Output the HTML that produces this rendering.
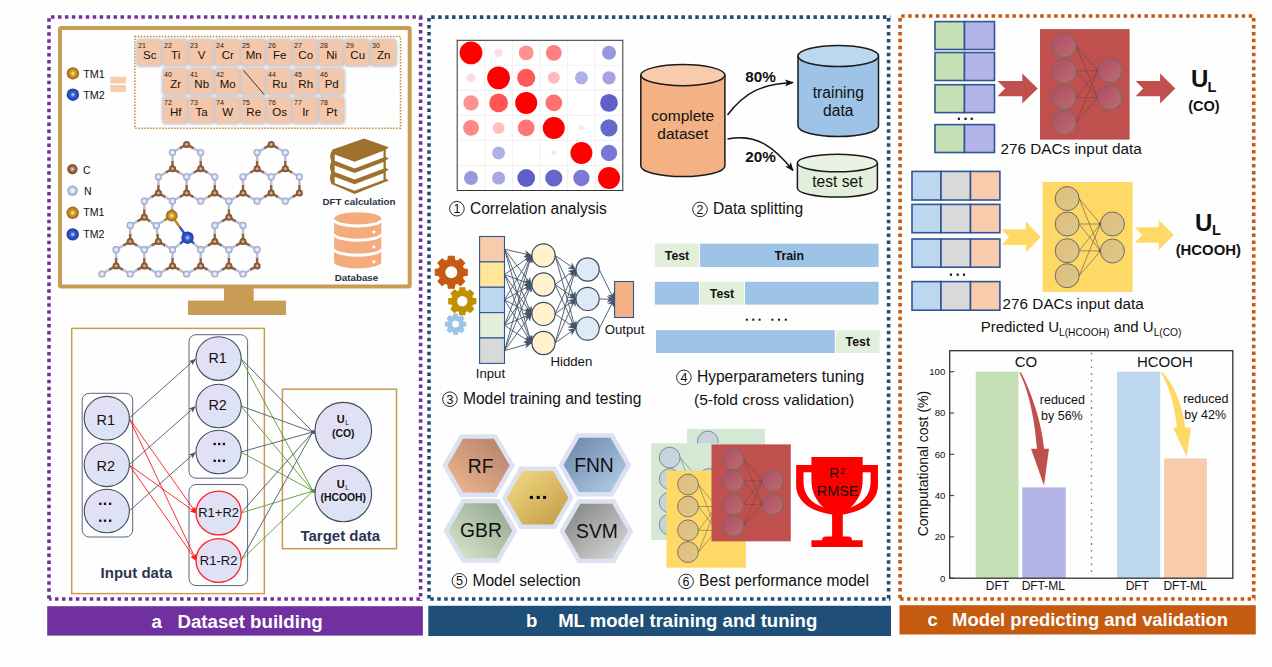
<!DOCTYPE html>
<html><head><meta charset="utf-8"><style>
html,body{margin:0;padding:0;background:#fff;width:1272px;height:667px;overflow:hidden}
svg{display:block;font-family:"Liberation Sans", sans-serif}
</style></head><body>
<svg width="1272" height="667" viewBox="0 0 1272 667">
<defs>
<radialGradient id="gTM1" cx="0.5" cy="0.5" r="0.55"><stop offset="0" stop-color="#FFF2B0"/><stop offset="0.35" stop-color="#D8A030"/><stop offset="1" stop-color="#8A5A10"/></radialGradient>
<radialGradient id="gTM2" cx="0.5" cy="0.5" r="0.55"><stop offset="0" stop-color="#D0E0FF"/><stop offset="0.35" stop-color="#3A60D8"/><stop offset="1" stop-color="#1A3090"/></radialGradient>
<radialGradient id="gC" cx="0.5" cy="0.5" r="0.55"><stop offset="0" stop-color="#F4DCC8"/><stop offset="0.45" stop-color="#9C6A48"/><stop offset="1" stop-color="#65402A"/></radialGradient>
<radialGradient id="gN" cx="0.5" cy="0.5" r="0.55"><stop offset="0" stop-color="#FFFFFF"/><stop offset="0.5" stop-color="#CAD2EE"/><stop offset="1" stop-color="#7C88B0"/></radialGradient>
<linearGradient id="gCirc" x1="0" y1="0" x2="1" y2="1"><stop offset="0" stop-color="#EADCF4"/><stop offset="1" stop-color="#D6E6F6"/></linearGradient>
<linearGradient id="hxRF" x1="1" y1="0" x2="0" y2="1"><stop offset="0" stop-color="#B08068"/><stop offset="1" stop-color="#F0B890"/></linearGradient>
<linearGradient id="hxGBR" x1="1" y1="0" x2="0" y2="1"><stop offset="0" stop-color="#8CA48C"/><stop offset="1" stop-color="#DCE8CC"/></linearGradient>
<linearGradient id="hxDOT" x1="0" y1="0" x2="1" y2="1"><stop offset="0" stop-color="#F4DC84"/><stop offset="1" stop-color="#C09A44"/></linearGradient>
<linearGradient id="hxFNN" x1="0" y1="0" x2="1" y2="1"><stop offset="0" stop-color="#6A84A4"/><stop offset="1" stop-color="#B4D0EC"/></linearGradient>
<linearGradient id="hxSVM" x1="0" y1="0" x2="1" y2="1"><stop offset="0" stop-color="#808080"/><stop offset="1" stop-color="#DCDCDC"/></linearGradient>
<linearGradient id="gNNr" x1="0" y1="0" x2="1" y2="1"><stop offset="0" stop-color="#B24A66"/><stop offset="1" stop-color="#B8706E"/></linearGradient>
<linearGradient id="gNNy" x1="0" y1="0" x2="1" y2="1"><stop offset="0" stop-color="#E4BA80"/><stop offset="1" stop-color="#D8CA88"/></linearGradient>
<linearGradient id="gNNg" x1="0" y1="0" x2="1" y2="1"><stop offset="0" stop-color="#C8D0DC"/><stop offset="1" stop-color="#C4D8DC"/></linearGradient>
<filter id="blur1" x="-20%" y="-20%" width="140%" height="140%"><feGaussianBlur stdDeviation="0.9"/></filter>
<filter id="cellsh" x="-20%" y="-20%" width="140%" height="140%"><feDropShadow dx="0" dy="0.4" stdDeviation="1.3" flood-color="#9096A4" flood-opacity="1"/></filter>
<marker id="arrG" viewBox="0 0 10 10" refX="9" refY="5" markerWidth="7" markerHeight="7" orient="auto" markerUnits="userSpaceOnUse"><path d="M0,1 L10,5 L0,9 L2.5,5 Z" fill="#4A5868"/></marker>
<marker id="arrR" viewBox="0 0 10 10" refX="9" refY="5" markerWidth="7" markerHeight="7" orient="auto" markerUnits="userSpaceOnUse"><path d="M0,1 L10,5 L0,9 L2.5,5 Z" fill="#FF1A1A"/></marker>
<marker id="arrN" viewBox="0 0 10 10" refX="9" refY="5" markerWidth="8" markerHeight="8" orient="auto" markerUnits="userSpaceOnUse"><path d="M0,0.5 L10,5 L0,9.5 L3,5 Z" fill="#44546A"/></marker>
<marker id="arrK" viewBox="0 0 10 10" refX="9" refY="5" markerWidth="9" markerHeight="9" orient="auto" markerUnits="userSpaceOnUse"><path d="M0,1 L10,5 L0,9 L2.5,5 Z" fill="#111"/></marker>
</defs>
<rect width="1272" height="667" fill="#FEFEFE"/>
<line x1="49.00" y1="17.00" x2="422.40" y2="17.00" stroke="#7030A0" stroke-width="3.6" stroke-dasharray="3.5 3.45" stroke-dashoffset="4.95"/>
<line x1="49.00" y1="17.00" x2="49.00" y2="600.80" stroke="#7030A0" stroke-width="3.6" stroke-dasharray="3.5 3.45" stroke-dashoffset="5.65"/>
<line x1="420.60" y1="17.00" x2="420.60" y2="600.80" stroke="#7030A0" stroke-width="3.6" stroke-dasharray="3.5 3.45" stroke-dashoffset="0.85"/>
<line x1="49.00" y1="599.00" x2="422.40" y2="599.00" stroke="#7030A0" stroke-width="3.6" stroke-dasharray="3.5 3.45" stroke-dashoffset="0.95"/>
<rect x="47.20" y="606.20" width="375.70" height="29.40" rx="0" fill="#7030A0" stroke="none" stroke-width="1" />
<text x="151.6" y="627.6" font-size="18.7" text-anchor="start" font-weight="bold" fill="#fff" >a</text>
<text x="177.4" y="627.6" font-size="18.7" text-anchor="start" font-weight="bold" fill="#fff" >Dataset building</text>
<rect x="60.00" y="28.00" width="349.70" height="258.40" rx="1.2" fill="none" stroke="#C99C55" stroke-width="4" />
<rect x="224.00" y="288.00" width="29.70" height="13.00" rx="0" fill="#C99C55" stroke="none" stroke-width="1" />
<rect x="188.00" y="300.60" width="98.00" height="14.40" rx="0" fill="#C99C55" stroke="none" stroke-width="1" />
<rect x="134.90" y="36.60" width="265.60" height="91.60" rx="0" fill="none" stroke="#C48A2A" stroke-width="1.5" stroke-dasharray="1.5 1.5"/>
<rect x="135.60" y="38.60" width="27.70" height="28.50" rx="4.5" fill="#C4C8D2" stroke="none" stroke-width="1" filter="url(#blur1)"/>
<rect x="137.20" y="40.00" width="24.50" height="25.30" rx="3" fill="#F4C7AA" stroke="none" stroke-width="1" />
<text x="138.0" y="47.7" font-size="7" text-anchor="start" font-weight="normal" fill="#222" >21</text>
<text x="149.7" y="59.0" font-size="11.5" text-anchor="middle" font-weight="normal" fill="#111" >Sc</text>
<rect x="161.60" y="38.60" width="27.70" height="28.50" rx="4.5" fill="#C4C8D2" stroke="none" stroke-width="1" filter="url(#blur1)"/>
<rect x="163.20" y="40.00" width="24.50" height="25.30" rx="3" fill="#F4C7AA" stroke="none" stroke-width="1" />
<text x="164.0" y="47.7" font-size="7" text-anchor="start" font-weight="normal" fill="#222" >22</text>
<text x="175.7" y="59.0" font-size="11.5" text-anchor="middle" font-weight="normal" fill="#111" >Ti</text>
<rect x="187.60" y="38.60" width="27.70" height="28.50" rx="4.5" fill="#C4C8D2" stroke="none" stroke-width="1" filter="url(#blur1)"/>
<rect x="189.20" y="40.00" width="24.50" height="25.30" rx="3" fill="#F4C7AA" stroke="none" stroke-width="1" />
<text x="190.0" y="47.7" font-size="7" text-anchor="start" font-weight="normal" fill="#222" >23</text>
<text x="201.7" y="59.0" font-size="11.5" text-anchor="middle" font-weight="normal" fill="#111" >V</text>
<rect x="213.60" y="38.60" width="27.70" height="28.50" rx="4.5" fill="#C4C8D2" stroke="none" stroke-width="1" filter="url(#blur1)"/>
<rect x="215.20" y="40.00" width="24.50" height="25.30" rx="3" fill="#F4C7AA" stroke="none" stroke-width="1" />
<text x="216.0" y="47.7" font-size="7" text-anchor="start" font-weight="normal" fill="#222" >24</text>
<text x="227.7" y="59.0" font-size="11.5" text-anchor="middle" font-weight="normal" fill="#111" >Cr</text>
<rect x="239.60" y="38.60" width="27.70" height="28.50" rx="4.5" fill="#C4C8D2" stroke="none" stroke-width="1" filter="url(#blur1)"/>
<rect x="241.20" y="40.00" width="24.50" height="25.30" rx="3" fill="#F4C7AA" stroke="none" stroke-width="1" />
<text x="242.0" y="47.7" font-size="7" text-anchor="start" font-weight="normal" fill="#222" >25</text>
<text x="253.7" y="59.0" font-size="11.5" text-anchor="middle" font-weight="normal" fill="#111" >Mn</text>
<rect x="265.60" y="38.60" width="27.70" height="28.50" rx="4.5" fill="#C4C8D2" stroke="none" stroke-width="1" filter="url(#blur1)"/>
<rect x="267.20" y="40.00" width="24.50" height="25.30" rx="3" fill="#F4C7AA" stroke="none" stroke-width="1" />
<text x="268.0" y="47.7" font-size="7" text-anchor="start" font-weight="normal" fill="#222" >26</text>
<text x="279.7" y="59.0" font-size="11.5" text-anchor="middle" font-weight="normal" fill="#111" >Fe</text>
<rect x="291.60" y="38.60" width="27.70" height="28.50" rx="4.5" fill="#C4C8D2" stroke="none" stroke-width="1" filter="url(#blur1)"/>
<rect x="293.20" y="40.00" width="24.50" height="25.30" rx="3" fill="#F4C7AA" stroke="none" stroke-width="1" />
<text x="294.0" y="47.7" font-size="7" text-anchor="start" font-weight="normal" fill="#222" >27</text>
<text x="305.7" y="59.0" font-size="11.5" text-anchor="middle" font-weight="normal" fill="#111" >Co</text>
<rect x="317.60" y="38.60" width="27.70" height="28.50" rx="4.5" fill="#C4C8D2" stroke="none" stroke-width="1" filter="url(#blur1)"/>
<rect x="319.20" y="40.00" width="24.50" height="25.30" rx="3" fill="#F4C7AA" stroke="none" stroke-width="1" />
<text x="320.0" y="47.7" font-size="7" text-anchor="start" font-weight="normal" fill="#222" >28</text>
<text x="331.7" y="59.0" font-size="11.5" text-anchor="middle" font-weight="normal" fill="#111" >Ni</text>
<rect x="343.60" y="38.60" width="27.70" height="28.50" rx="4.5" fill="#C4C8D2" stroke="none" stroke-width="1" filter="url(#blur1)"/>
<rect x="345.20" y="40.00" width="24.50" height="25.30" rx="3" fill="#F4C7AA" stroke="none" stroke-width="1" />
<text x="346.0" y="47.7" font-size="7" text-anchor="start" font-weight="normal" fill="#222" >29</text>
<text x="357.7" y="59.0" font-size="11.5" text-anchor="middle" font-weight="normal" fill="#111" >Cu</text>
<rect x="369.60" y="38.60" width="27.70" height="28.50" rx="4.5" fill="#C4C8D2" stroke="none" stroke-width="1" filter="url(#blur1)"/>
<rect x="371.20" y="40.00" width="24.50" height="25.30" rx="3" fill="#F4C7AA" stroke="none" stroke-width="1" />
<text x="372.0" y="47.7" font-size="7" text-anchor="start" font-weight="normal" fill="#222" >30</text>
<text x="383.7" y="59.0" font-size="11.5" text-anchor="middle" font-weight="normal" fill="#111" >Zn</text>
<rect x="161.60" y="67.60" width="27.70" height="28.50" rx="4.5" fill="#C4C8D2" stroke="none" stroke-width="1" filter="url(#blur1)"/>
<rect x="163.20" y="69.00" width="24.50" height="25.30" rx="3" fill="#F4C7AA" stroke="none" stroke-width="1" />
<text x="164.0" y="76.7" font-size="7" text-anchor="start" font-weight="normal" fill="#222" >40</text>
<text x="175.7" y="88.0" font-size="11.5" text-anchor="middle" font-weight="normal" fill="#111" >Zr</text>
<rect x="187.60" y="67.60" width="27.70" height="28.50" rx="4.5" fill="#C4C8D2" stroke="none" stroke-width="1" filter="url(#blur1)"/>
<rect x="189.20" y="69.00" width="24.50" height="25.30" rx="3" fill="#F4C7AA" stroke="none" stroke-width="1" />
<text x="190.0" y="76.7" font-size="7" text-anchor="start" font-weight="normal" fill="#222" >41</text>
<text x="201.7" y="88.0" font-size="11.5" text-anchor="middle" font-weight="normal" fill="#111" >Nb</text>
<rect x="213.60" y="67.60" width="27.70" height="28.50" rx="4.5" fill="#C4C8D2" stroke="none" stroke-width="1" filter="url(#blur1)"/>
<rect x="215.20" y="69.00" width="24.50" height="25.30" rx="3" fill="#F4C7AA" stroke="none" stroke-width="1" />
<text x="216.0" y="76.7" font-size="7" text-anchor="start" font-weight="normal" fill="#222" >42</text>
<text x="227.7" y="88.0" font-size="11.5" text-anchor="middle" font-weight="normal" fill="#111" >Mo</text>
<rect x="239.60" y="67.60" width="27.70" height="28.50" rx="4.5" fill="#C4C8D2" stroke="none" stroke-width="1" filter="url(#blur1)"/>
<rect x="241.20" y="69.00" width="24.50" height="25.30" rx="3" fill="#F4C7AA" stroke="none" stroke-width="1" />
<line x1="243.60" y1="70.50" x2="264.20" y2="94.60" stroke="#222" stroke-width="0.9" />
<rect x="265.60" y="67.60" width="27.70" height="28.50" rx="4.5" fill="#C4C8D2" stroke="none" stroke-width="1" filter="url(#blur1)"/>
<rect x="267.20" y="69.00" width="24.50" height="25.30" rx="3" fill="#F4C7AA" stroke="none" stroke-width="1" />
<text x="268.0" y="76.7" font-size="7" text-anchor="start" font-weight="normal" fill="#222" >44</text>
<text x="279.7" y="88.0" font-size="11.5" text-anchor="middle" font-weight="normal" fill="#111" >Ru</text>
<rect x="291.60" y="67.60" width="27.70" height="28.50" rx="4.5" fill="#C4C8D2" stroke="none" stroke-width="1" filter="url(#blur1)"/>
<rect x="293.20" y="69.00" width="24.50" height="25.30" rx="3" fill="#F4C7AA" stroke="none" stroke-width="1" />
<text x="294.0" y="76.7" font-size="7" text-anchor="start" font-weight="normal" fill="#222" >45</text>
<text x="305.7" y="88.0" font-size="11.5" text-anchor="middle" font-weight="normal" fill="#111" >Rh</text>
<rect x="317.60" y="67.60" width="27.70" height="28.50" rx="4.5" fill="#C4C8D2" stroke="none" stroke-width="1" filter="url(#blur1)"/>
<rect x="319.20" y="69.00" width="24.50" height="25.30" rx="3" fill="#F4C7AA" stroke="none" stroke-width="1" />
<text x="320.0" y="76.7" font-size="7" text-anchor="start" font-weight="normal" fill="#222" >46</text>
<text x="331.7" y="88.0" font-size="11.5" text-anchor="middle" font-weight="normal" fill="#111" >Pd</text>
<rect x="161.60" y="96.00" width="27.70" height="28.50" rx="4.5" fill="#C4C8D2" stroke="none" stroke-width="1" filter="url(#blur1)"/>
<rect x="163.20" y="97.40" width="24.50" height="25.30" rx="3" fill="#F4C7AA" stroke="none" stroke-width="1" />
<text x="164.0" y="105.1" font-size="7" text-anchor="start" font-weight="normal" fill="#222" >72</text>
<text x="175.7" y="116.4" font-size="11.5" text-anchor="middle" font-weight="normal" fill="#111" >Hf</text>
<rect x="187.60" y="96.00" width="27.70" height="28.50" rx="4.5" fill="#C4C8D2" stroke="none" stroke-width="1" filter="url(#blur1)"/>
<rect x="189.20" y="97.40" width="24.50" height="25.30" rx="3" fill="#F4C7AA" stroke="none" stroke-width="1" />
<text x="190.0" y="105.1" font-size="7" text-anchor="start" font-weight="normal" fill="#222" >73</text>
<text x="201.7" y="116.4" font-size="11.5" text-anchor="middle" font-weight="normal" fill="#111" >Ta</text>
<rect x="213.60" y="96.00" width="27.70" height="28.50" rx="4.5" fill="#C4C8D2" stroke="none" stroke-width="1" filter="url(#blur1)"/>
<rect x="215.20" y="97.40" width="24.50" height="25.30" rx="3" fill="#F4C7AA" stroke="none" stroke-width="1" />
<text x="216.0" y="105.1" font-size="7" text-anchor="start" font-weight="normal" fill="#222" >74</text>
<text x="227.7" y="116.4" font-size="11.5" text-anchor="middle" font-weight="normal" fill="#111" >W</text>
<rect x="239.60" y="96.00" width="27.70" height="28.50" rx="4.5" fill="#C4C8D2" stroke="none" stroke-width="1" filter="url(#blur1)"/>
<rect x="241.20" y="97.40" width="24.50" height="25.30" rx="3" fill="#F4C7AA" stroke="none" stroke-width="1" />
<text x="242.0" y="105.1" font-size="7" text-anchor="start" font-weight="normal" fill="#222" >75</text>
<text x="253.7" y="116.4" font-size="11.5" text-anchor="middle" font-weight="normal" fill="#111" >Re</text>
<rect x="265.60" y="96.00" width="27.70" height="28.50" rx="4.5" fill="#C4C8D2" stroke="none" stroke-width="1" filter="url(#blur1)"/>
<rect x="267.20" y="97.40" width="24.50" height="25.30" rx="3" fill="#F4C7AA" stroke="none" stroke-width="1" />
<text x="268.0" y="105.1" font-size="7" text-anchor="start" font-weight="normal" fill="#222" >76</text>
<text x="279.7" y="116.4" font-size="11.5" text-anchor="middle" font-weight="normal" fill="#111" >Os</text>
<rect x="291.60" y="96.00" width="27.70" height="28.50" rx="4.5" fill="#C4C8D2" stroke="none" stroke-width="1" filter="url(#blur1)"/>
<rect x="293.20" y="97.40" width="24.50" height="25.30" rx="3" fill="#F4C7AA" stroke="none" stroke-width="1" />
<text x="294.0" y="105.1" font-size="7" text-anchor="start" font-weight="normal" fill="#222" >77</text>
<text x="305.7" y="116.4" font-size="11.5" text-anchor="middle" font-weight="normal" fill="#111" >Ir</text>
<rect x="317.60" y="96.00" width="27.70" height="28.50" rx="4.5" fill="#C4C8D2" stroke="none" stroke-width="1" filter="url(#blur1)"/>
<rect x="319.20" y="97.40" width="24.50" height="25.30" rx="3" fill="#F4C7AA" stroke="none" stroke-width="1" />
<text x="320.0" y="105.1" font-size="7" text-anchor="start" font-weight="normal" fill="#222" >78</text>
<text x="331.7" y="116.4" font-size="11.5" text-anchor="middle" font-weight="normal" fill="#111" >Pt</text>
<circle cx="72.90" cy="73.40" r="6.20" fill="url(#gTM1)" stroke="none" stroke-width="1" />
<circle cx="72.90" cy="94.70" r="6.20" fill="url(#gTM2)" stroke="none" stroke-width="1" />
<text x="83.2" y="77.5" font-size="10.8" text-anchor="start" font-weight="normal" fill="#111" >TM1</text>
<text x="83.2" y="99.0" font-size="10.8" text-anchor="start" font-weight="normal" fill="#111" >TM2</text>
<rect x="110.30" y="76.70" width="15.60" height="6.80" rx="0" fill="#F8CBAD" stroke="none" stroke-width="1" />
<rect x="110.30" y="85.10" width="15.60" height="6.80" rx="0" fill="#F8CBAD" stroke="none" stroke-width="1" />
<circle cx="72.40" cy="169.10" r="5.20" fill="url(#gC)" stroke="none" stroke-width="1" />
<circle cx="72.50" cy="190.60" r="5.20" fill="url(#gN)" stroke="none" stroke-width="1" />
<circle cx="72.70" cy="212.80" r="6.20" fill="url(#gTM1)" stroke="none" stroke-width="1" />
<circle cx="72.70" cy="234.40" r="6.20" fill="url(#gTM2)" stroke="none" stroke-width="1" />
<text x="83.0" y="173.7" font-size="10.5" text-anchor="start" font-weight="normal" fill="#111" >C</text>
<text x="84.0" y="195.2" font-size="10.5" text-anchor="start" font-weight="normal" fill="#111" >N</text>
<text x="83.2" y="216.1" font-size="10.6" text-anchor="start" font-weight="normal" fill="#111" >TM1</text>
<text x="83.2" y="237.9" font-size="10.6" text-anchor="start" font-weight="normal" fill="#111" >TM2</text>
<line x1="186.60" y1="144.40" x2="179.55" y2="148.45" stroke="#96623E" stroke-width="2.5" />
<line x1="179.55" y1="148.45" x2="172.50" y2="152.50" stroke="#B4C0DE" stroke-width="2.5" />
<line x1="186.60" y1="144.40" x2="193.65" y2="148.45" stroke="#96623E" stroke-width="2.5" />
<line x1="193.65" y1="148.45" x2="200.70" y2="152.50" stroke="#B4C0DE" stroke-width="2.5" />
<line x1="172.50" y1="168.70" x2="172.50" y2="160.60" stroke="#96623E" stroke-width="2.5" />
<line x1="172.50" y1="160.60" x2="172.50" y2="152.50" stroke="#B4C0DE" stroke-width="2.5" />
<line x1="172.50" y1="168.70" x2="179.55" y2="172.75" stroke="#96623E" stroke-width="2.5" />
<line x1="179.55" y1="172.75" x2="186.60" y2="176.80" stroke="#B4C0DE" stroke-width="2.5" />
<line x1="172.50" y1="168.70" x2="165.45" y2="172.75" stroke="#96623E" stroke-width="2.5" />
<line x1="165.45" y1="172.75" x2="158.40" y2="176.80" stroke="#B4C0DE" stroke-width="2.5" />
<line x1="200.70" y1="168.70" x2="200.70" y2="160.60" stroke="#96623E" stroke-width="2.5" />
<line x1="200.70" y1="160.60" x2="200.70" y2="152.50" stroke="#B4C0DE" stroke-width="2.5" />
<line x1="200.70" y1="168.70" x2="193.65" y2="172.75" stroke="#96623E" stroke-width="2.5" />
<line x1="193.65" y1="172.75" x2="186.60" y2="176.80" stroke="#B4C0DE" stroke-width="2.5" />
<line x1="200.70" y1="168.70" x2="207.75" y2="172.75" stroke="#96623E" stroke-width="2.5" />
<line x1="207.75" y1="172.75" x2="214.80" y2="176.80" stroke="#B4C0DE" stroke-width="2.5" />
<line x1="158.40" y1="193.00" x2="158.40" y2="184.90" stroke="#96623E" stroke-width="2.5" />
<line x1="158.40" y1="184.90" x2="158.40" y2="176.80" stroke="#B4C0DE" stroke-width="2.5" />
<line x1="158.40" y1="193.00" x2="165.45" y2="197.05" stroke="#96623E" stroke-width="2.5" />
<line x1="165.45" y1="197.05" x2="172.50" y2="201.10" stroke="#B4C0DE" stroke-width="2.5" />
<line x1="158.40" y1="193.00" x2="151.35" y2="197.05" stroke="#96623E" stroke-width="2.5" />
<line x1="151.35" y1="197.05" x2="144.30" y2="201.10" stroke="#B4C0DE" stroke-width="2.5" />
<line x1="186.60" y1="193.00" x2="186.60" y2="184.90" stroke="#96623E" stroke-width="2.5" />
<line x1="186.60" y1="184.90" x2="186.60" y2="176.80" stroke="#B4C0DE" stroke-width="2.5" />
<line x1="186.60" y1="193.00" x2="179.55" y2="197.05" stroke="#96623E" stroke-width="2.5" />
<line x1="179.55" y1="197.05" x2="172.50" y2="201.10" stroke="#B4C0DE" stroke-width="2.5" />
<line x1="186.60" y1="193.00" x2="193.65" y2="197.05" stroke="#96623E" stroke-width="2.5" />
<line x1="193.65" y1="197.05" x2="200.70" y2="201.10" stroke="#B4C0DE" stroke-width="2.5" />
<line x1="214.80" y1="193.00" x2="214.80" y2="184.90" stroke="#96623E" stroke-width="2.5" />
<line x1="214.80" y1="184.90" x2="214.80" y2="176.80" stroke="#B4C0DE" stroke-width="2.5" />
<line x1="214.80" y1="193.00" x2="207.75" y2="197.05" stroke="#96623E" stroke-width="2.5" />
<line x1="207.75" y1="197.05" x2="200.70" y2="201.10" stroke="#B4C0DE" stroke-width="2.5" />
<line x1="214.80" y1="193.00" x2="221.85" y2="197.05" stroke="#96623E" stroke-width="2.5" />
<line x1="221.85" y1="197.05" x2="228.90" y2="201.10" stroke="#B4C0DE" stroke-width="2.5" />
<line x1="271.20" y1="144.40" x2="264.15" y2="148.45" stroke="#96623E" stroke-width="2.5" />
<line x1="264.15" y1="148.45" x2="257.10" y2="152.50" stroke="#B4C0DE" stroke-width="2.5" />
<line x1="271.20" y1="144.40" x2="278.25" y2="148.45" stroke="#96623E" stroke-width="2.5" />
<line x1="278.25" y1="148.45" x2="285.30" y2="152.50" stroke="#B4C0DE" stroke-width="2.5" />
<line x1="257.10" y1="168.70" x2="257.10" y2="160.60" stroke="#96623E" stroke-width="2.5" />
<line x1="257.10" y1="160.60" x2="257.10" y2="152.50" stroke="#B4C0DE" stroke-width="2.5" />
<line x1="257.10" y1="168.70" x2="264.15" y2="172.75" stroke="#96623E" stroke-width="2.5" />
<line x1="264.15" y1="172.75" x2="271.20" y2="176.80" stroke="#B4C0DE" stroke-width="2.5" />
<line x1="257.10" y1="168.70" x2="250.05" y2="172.75" stroke="#96623E" stroke-width="2.5" />
<line x1="250.05" y1="172.75" x2="243.00" y2="176.80" stroke="#B4C0DE" stroke-width="2.5" />
<line x1="285.30" y1="168.70" x2="285.30" y2="160.60" stroke="#96623E" stroke-width="2.5" />
<line x1="285.30" y1="160.60" x2="285.30" y2="152.50" stroke="#B4C0DE" stroke-width="2.5" />
<line x1="285.30" y1="168.70" x2="278.25" y2="172.75" stroke="#96623E" stroke-width="2.5" />
<line x1="278.25" y1="172.75" x2="271.20" y2="176.80" stroke="#B4C0DE" stroke-width="2.5" />
<line x1="285.30" y1="168.70" x2="292.35" y2="172.75" stroke="#96623E" stroke-width="2.5" />
<line x1="292.35" y1="172.75" x2="299.40" y2="176.80" stroke="#B4C0DE" stroke-width="2.5" />
<line x1="243.00" y1="193.00" x2="243.00" y2="184.90" stroke="#96623E" stroke-width="2.5" />
<line x1="243.00" y1="184.90" x2="243.00" y2="176.80" stroke="#B4C0DE" stroke-width="2.5" />
<line x1="243.00" y1="193.00" x2="250.05" y2="197.05" stroke="#96623E" stroke-width="2.5" />
<line x1="250.05" y1="197.05" x2="257.10" y2="201.10" stroke="#B4C0DE" stroke-width="2.5" />
<line x1="243.00" y1="193.00" x2="235.95" y2="197.05" stroke="#96623E" stroke-width="2.5" />
<line x1="235.95" y1="197.05" x2="228.90" y2="201.10" stroke="#B4C0DE" stroke-width="2.5" />
<line x1="271.20" y1="193.00" x2="271.20" y2="184.90" stroke="#96623E" stroke-width="2.5" />
<line x1="271.20" y1="184.90" x2="271.20" y2="176.80" stroke="#B4C0DE" stroke-width="2.5" />
<line x1="271.20" y1="193.00" x2="264.15" y2="197.05" stroke="#96623E" stroke-width="2.5" />
<line x1="264.15" y1="197.05" x2="257.10" y2="201.10" stroke="#B4C0DE" stroke-width="2.5" />
<line x1="271.20" y1="193.00" x2="278.25" y2="197.05" stroke="#96623E" stroke-width="2.5" />
<line x1="278.25" y1="197.05" x2="285.30" y2="201.10" stroke="#B4C0DE" stroke-width="2.5" />
<line x1="299.40" y1="193.00" x2="299.40" y2="184.90" stroke="#96623E" stroke-width="2.5" />
<line x1="299.40" y1="184.90" x2="299.40" y2="176.80" stroke="#B4C0DE" stroke-width="2.5" />
<line x1="299.40" y1="193.00" x2="292.35" y2="197.05" stroke="#96623E" stroke-width="2.5" />
<line x1="292.35" y1="197.05" x2="285.30" y2="201.10" stroke="#B4C0DE" stroke-width="2.5" />
<line x1="228.90" y1="217.30" x2="221.85" y2="221.35" stroke="#96623E" stroke-width="2.5" />
<line x1="221.85" y1="221.35" x2="214.80" y2="225.40" stroke="#B4C0DE" stroke-width="2.5" />
<line x1="228.90" y1="217.30" x2="235.95" y2="221.35" stroke="#96623E" stroke-width="2.5" />
<line x1="235.95" y1="221.35" x2="243.00" y2="225.40" stroke="#B4C0DE" stroke-width="2.5" />
<line x1="228.90" y1="217.30" x2="228.90" y2="209.20" stroke="#96623E" stroke-width="2.5" />
<line x1="228.90" y1="209.20" x2="228.90" y2="201.10" stroke="#B4C0DE" stroke-width="2.5" />
<line x1="214.80" y1="241.60" x2="214.80" y2="233.50" stroke="#96623E" stroke-width="2.5" />
<line x1="214.80" y1="233.50" x2="214.80" y2="225.40" stroke="#B4C0DE" stroke-width="2.5" />
<line x1="214.80" y1="241.60" x2="221.85" y2="245.65" stroke="#96623E" stroke-width="2.5" />
<line x1="221.85" y1="245.65" x2="228.90" y2="249.70" stroke="#B4C0DE" stroke-width="2.5" />
<line x1="214.80" y1="241.60" x2="207.75" y2="245.65" stroke="#96623E" stroke-width="2.5" />
<line x1="207.75" y1="245.65" x2="200.70" y2="249.70" stroke="#B4C0DE" stroke-width="2.5" />
<line x1="243.00" y1="241.60" x2="243.00" y2="233.50" stroke="#96623E" stroke-width="2.5" />
<line x1="243.00" y1="233.50" x2="243.00" y2="225.40" stroke="#B4C0DE" stroke-width="2.5" />
<line x1="243.00" y1="241.60" x2="235.95" y2="245.65" stroke="#96623E" stroke-width="2.5" />
<line x1="235.95" y1="245.65" x2="228.90" y2="249.70" stroke="#B4C0DE" stroke-width="2.5" />
<line x1="243.00" y1="241.60" x2="250.05" y2="245.65" stroke="#96623E" stroke-width="2.5" />
<line x1="250.05" y1="245.65" x2="257.10" y2="249.70" stroke="#B4C0DE" stroke-width="2.5" />
<line x1="200.70" y1="265.90" x2="200.70" y2="257.80" stroke="#96623E" stroke-width="2.5" />
<line x1="200.70" y1="257.80" x2="200.70" y2="249.70" stroke="#B4C0DE" stroke-width="2.5" />
<line x1="200.70" y1="265.90" x2="207.75" y2="269.95" stroke="#96623E" stroke-width="2.5" />
<line x1="207.75" y1="269.95" x2="214.80" y2="274.00" stroke="#B4C0DE" stroke-width="2.5" />
<line x1="200.70" y1="265.90" x2="193.65" y2="269.95" stroke="#96623E" stroke-width="2.5" />
<line x1="193.65" y1="269.95" x2="186.60" y2="274.00" stroke="#B4C0DE" stroke-width="2.5" />
<line x1="228.90" y1="265.90" x2="228.90" y2="257.80" stroke="#96623E" stroke-width="2.5" />
<line x1="228.90" y1="257.80" x2="228.90" y2="249.70" stroke="#B4C0DE" stroke-width="2.5" />
<line x1="228.90" y1="265.90" x2="221.85" y2="269.95" stroke="#96623E" stroke-width="2.5" />
<line x1="221.85" y1="269.95" x2="214.80" y2="274.00" stroke="#B4C0DE" stroke-width="2.5" />
<line x1="228.90" y1="265.90" x2="235.95" y2="269.95" stroke="#96623E" stroke-width="2.5" />
<line x1="235.95" y1="269.95" x2="243.00" y2="274.00" stroke="#B4C0DE" stroke-width="2.5" />
<line x1="257.10" y1="265.90" x2="257.10" y2="257.80" stroke="#96623E" stroke-width="2.5" />
<line x1="257.10" y1="257.80" x2="257.10" y2="249.70" stroke="#B4C0DE" stroke-width="2.5" />
<line x1="257.10" y1="265.90" x2="250.05" y2="269.95" stroke="#96623E" stroke-width="2.5" />
<line x1="250.05" y1="269.95" x2="243.00" y2="274.00" stroke="#B4C0DE" stroke-width="2.5" />
<line x1="144.30" y1="217.30" x2="137.25" y2="221.35" stroke="#96623E" stroke-width="2.5" />
<line x1="137.25" y1="221.35" x2="130.20" y2="225.40" stroke="#B4C0DE" stroke-width="2.5" />
<line x1="144.30" y1="217.30" x2="150.30" y2="221.45" stroke="#96623E" stroke-width="2.5" />
<line x1="150.30" y1="221.45" x2="156.30" y2="225.60" stroke="#B4C0DE" stroke-width="2.5" />
<line x1="144.30" y1="217.30" x2="144.30" y2="209.20" stroke="#96623E" stroke-width="2.5" />
<line x1="144.30" y1="209.20" x2="144.30" y2="201.10" stroke="#B4C0DE" stroke-width="2.5" />
<line x1="130.20" y1="241.60" x2="130.20" y2="233.50" stroke="#96623E" stroke-width="2.5" />
<line x1="130.20" y1="233.50" x2="130.20" y2="225.40" stroke="#B4C0DE" stroke-width="2.5" />
<line x1="130.20" y1="241.60" x2="137.25" y2="245.65" stroke="#96623E" stroke-width="2.5" />
<line x1="137.25" y1="245.65" x2="144.30" y2="249.70" stroke="#B4C0DE" stroke-width="2.5" />
<line x1="130.20" y1="241.60" x2="123.15" y2="245.65" stroke="#96623E" stroke-width="2.5" />
<line x1="123.15" y1="245.65" x2="116.10" y2="249.70" stroke="#B4C0DE" stroke-width="2.5" />
<line x1="158.40" y1="241.60" x2="157.35" y2="233.60" stroke="#96623E" stroke-width="2.5" />
<line x1="157.35" y1="233.60" x2="156.30" y2="225.60" stroke="#B4C0DE" stroke-width="2.5" />
<line x1="158.40" y1="241.60" x2="151.35" y2="245.65" stroke="#96623E" stroke-width="2.5" />
<line x1="151.35" y1="245.65" x2="144.30" y2="249.70" stroke="#B4C0DE" stroke-width="2.5" />
<line x1="158.40" y1="241.60" x2="165.45" y2="245.65" stroke="#96623E" stroke-width="2.5" />
<line x1="165.45" y1="245.65" x2="172.50" y2="249.70" stroke="#B4C0DE" stroke-width="2.5" />
<line x1="116.10" y1="265.90" x2="116.10" y2="257.80" stroke="#96623E" stroke-width="2.5" />
<line x1="116.10" y1="257.80" x2="116.10" y2="249.70" stroke="#B4C0DE" stroke-width="2.5" />
<line x1="116.10" y1="265.90" x2="123.15" y2="269.95" stroke="#96623E" stroke-width="2.5" />
<line x1="123.15" y1="269.95" x2="130.20" y2="274.00" stroke="#B4C0DE" stroke-width="2.5" />
<line x1="116.10" y1="265.90" x2="109.05" y2="269.95" stroke="#96623E" stroke-width="2.5" />
<line x1="109.05" y1="269.95" x2="102.00" y2="274.00" stroke="#B4C0DE" stroke-width="2.5" />
<line x1="144.30" y1="265.90" x2="144.30" y2="257.80" stroke="#96623E" stroke-width="2.5" />
<line x1="144.30" y1="257.80" x2="144.30" y2="249.70" stroke="#B4C0DE" stroke-width="2.5" />
<line x1="144.30" y1="265.90" x2="137.25" y2="269.95" stroke="#96623E" stroke-width="2.5" />
<line x1="137.25" y1="269.95" x2="130.20" y2="274.00" stroke="#B4C0DE" stroke-width="2.5" />
<line x1="144.30" y1="265.90" x2="151.35" y2="269.95" stroke="#96623E" stroke-width="2.5" />
<line x1="151.35" y1="269.95" x2="158.40" y2="274.00" stroke="#B4C0DE" stroke-width="2.5" />
<line x1="172.50" y1="265.90" x2="172.50" y2="257.80" stroke="#96623E" stroke-width="2.5" />
<line x1="172.50" y1="257.80" x2="172.50" y2="249.70" stroke="#B4C0DE" stroke-width="2.5" />
<line x1="172.50" y1="265.90" x2="165.45" y2="269.95" stroke="#96623E" stroke-width="2.5" />
<line x1="165.45" y1="269.95" x2="158.40" y2="274.00" stroke="#B4C0DE" stroke-width="2.5" />
<line x1="172.50" y1="265.90" x2="179.55" y2="269.95" stroke="#96623E" stroke-width="2.5" />
<line x1="179.55" y1="269.95" x2="186.60" y2="274.00" stroke="#B4C0DE" stroke-width="2.5" />
<line x1="171.70" y1="215.70" x2="172.10" y2="208.40" stroke="#C08A22" stroke-width="2.5" />
<line x1="172.10" y1="208.40" x2="172.50" y2="201.10" stroke="#B4C0DE" stroke-width="2.5" />
<line x1="171.70" y1="215.70" x2="164.00" y2="220.65" stroke="#C08A22" stroke-width="2.5" />
<line x1="164.00" y1="220.65" x2="156.30" y2="225.60" stroke="#B4C0DE" stroke-width="2.5" />
<line x1="171.70" y1="215.70" x2="179.60" y2="226.70" stroke="#C08A22" stroke-width="2.5" />
<line x1="179.60" y1="226.70" x2="187.50" y2="237.70" stroke="#2F58D0" stroke-width="2.5" />
<line x1="187.50" y1="237.70" x2="180.00" y2="243.70" stroke="#2F58D0" stroke-width="2.5" />
<line x1="180.00" y1="243.70" x2="172.50" y2="249.70" stroke="#B4C0DE" stroke-width="2.5" />
<line x1="187.50" y1="237.70" x2="194.10" y2="243.70" stroke="#2F58D0" stroke-width="2.5" />
<line x1="194.10" y1="243.70" x2="200.70" y2="249.70" stroke="#B4C0DE" stroke-width="2.5" />
<circle cx="186.60" cy="144.40" r="3.50" fill="url(#gC)" stroke="none" stroke-width="1" />
<circle cx="172.50" cy="168.70" r="3.50" fill="url(#gC)" stroke="none" stroke-width="1" />
<circle cx="200.70" cy="168.70" r="3.50" fill="url(#gC)" stroke="none" stroke-width="1" />
<circle cx="158.40" cy="193.00" r="3.50" fill="url(#gC)" stroke="none" stroke-width="1" />
<circle cx="186.60" cy="193.00" r="3.50" fill="url(#gC)" stroke="none" stroke-width="1" />
<circle cx="214.80" cy="193.00" r="3.50" fill="url(#gC)" stroke="none" stroke-width="1" />
<circle cx="271.20" cy="144.40" r="3.50" fill="url(#gC)" stroke="none" stroke-width="1" />
<circle cx="257.10" cy="168.70" r="3.50" fill="url(#gC)" stroke="none" stroke-width="1" />
<circle cx="285.30" cy="168.70" r="3.50" fill="url(#gC)" stroke="none" stroke-width="1" />
<circle cx="243.00" cy="193.00" r="3.50" fill="url(#gC)" stroke="none" stroke-width="1" />
<circle cx="271.20" cy="193.00" r="3.50" fill="url(#gC)" stroke="none" stroke-width="1" />
<circle cx="299.40" cy="193.00" r="3.50" fill="url(#gC)" stroke="none" stroke-width="1" />
<circle cx="228.90" cy="217.30" r="3.50" fill="url(#gC)" stroke="none" stroke-width="1" />
<circle cx="214.80" cy="241.60" r="3.50" fill="url(#gC)" stroke="none" stroke-width="1" />
<circle cx="243.00" cy="241.60" r="3.50" fill="url(#gC)" stroke="none" stroke-width="1" />
<circle cx="200.70" cy="265.90" r="3.50" fill="url(#gC)" stroke="none" stroke-width="1" />
<circle cx="228.90" cy="265.90" r="3.50" fill="url(#gC)" stroke="none" stroke-width="1" />
<circle cx="257.10" cy="265.90" r="3.50" fill="url(#gC)" stroke="none" stroke-width="1" />
<circle cx="144.30" cy="217.30" r="3.50" fill="url(#gC)" stroke="none" stroke-width="1" />
<circle cx="130.20" cy="241.60" r="3.50" fill="url(#gC)" stroke="none" stroke-width="1" />
<circle cx="158.40" cy="241.60" r="3.50" fill="url(#gC)" stroke="none" stroke-width="1" />
<circle cx="116.10" cy="265.90" r="3.50" fill="url(#gC)" stroke="none" stroke-width="1" />
<circle cx="144.30" cy="265.90" r="3.50" fill="url(#gC)" stroke="none" stroke-width="1" />
<circle cx="172.50" cy="265.90" r="3.50" fill="url(#gC)" stroke="none" stroke-width="1" />
<circle cx="172.50" cy="152.50" r="3.60" fill="url(#gN)" stroke="none" stroke-width="1" />
<circle cx="200.70" cy="152.50" r="3.60" fill="url(#gN)" stroke="none" stroke-width="1" />
<circle cx="186.60" cy="176.80" r="3.60" fill="url(#gN)" stroke="none" stroke-width="1" />
<circle cx="158.40" cy="176.80" r="3.60" fill="url(#gN)" stroke="none" stroke-width="1" />
<circle cx="214.80" cy="176.80" r="3.60" fill="url(#gN)" stroke="none" stroke-width="1" />
<circle cx="172.50" cy="201.10" r="3.60" fill="url(#gN)" stroke="none" stroke-width="1" />
<circle cx="200.70" cy="201.10" r="3.60" fill="url(#gN)" stroke="none" stroke-width="1" />
<circle cx="257.10" cy="152.50" r="3.60" fill="url(#gN)" stroke="none" stroke-width="1" />
<circle cx="285.30" cy="152.50" r="3.60" fill="url(#gN)" stroke="none" stroke-width="1" />
<circle cx="271.20" cy="176.80" r="3.60" fill="url(#gN)" stroke="none" stroke-width="1" />
<circle cx="243.00" cy="176.80" r="3.60" fill="url(#gN)" stroke="none" stroke-width="1" />
<circle cx="299.40" cy="176.80" r="3.60" fill="url(#gN)" stroke="none" stroke-width="1" />
<circle cx="257.10" cy="201.10" r="3.60" fill="url(#gN)" stroke="none" stroke-width="1" />
<circle cx="285.30" cy="201.10" r="3.60" fill="url(#gN)" stroke="none" stroke-width="1" />
<circle cx="214.80" cy="225.40" r="3.60" fill="url(#gN)" stroke="none" stroke-width="1" />
<circle cx="243.00" cy="225.40" r="3.60" fill="url(#gN)" stroke="none" stroke-width="1" />
<circle cx="228.90" cy="249.70" r="3.60" fill="url(#gN)" stroke="none" stroke-width="1" />
<circle cx="200.70" cy="249.70" r="3.60" fill="url(#gN)" stroke="none" stroke-width="1" />
<circle cx="257.10" cy="249.70" r="3.60" fill="url(#gN)" stroke="none" stroke-width="1" />
<circle cx="214.80" cy="274.00" r="3.60" fill="url(#gN)" stroke="none" stroke-width="1" />
<circle cx="243.00" cy="274.00" r="3.60" fill="url(#gN)" stroke="none" stroke-width="1" />
<circle cx="130.20" cy="225.40" r="3.60" fill="url(#gN)" stroke="none" stroke-width="1" />
<circle cx="156.30" cy="225.60" r="3.60" fill="url(#gN)" stroke="none" stroke-width="1" />
<circle cx="144.30" cy="249.70" r="3.60" fill="url(#gN)" stroke="none" stroke-width="1" />
<circle cx="116.10" cy="249.70" r="3.60" fill="url(#gN)" stroke="none" stroke-width="1" />
<circle cx="172.50" cy="249.70" r="3.60" fill="url(#gN)" stroke="none" stroke-width="1" />
<circle cx="130.20" cy="274.00" r="3.60" fill="url(#gN)" stroke="none" stroke-width="1" />
<circle cx="158.40" cy="274.00" r="3.60" fill="url(#gN)" stroke="none" stroke-width="1" />
<circle cx="228.90" cy="201.10" r="3.60" fill="url(#gN)" stroke="none" stroke-width="1" />
<circle cx="144.30" cy="201.10" r="3.60" fill="url(#gN)" stroke="none" stroke-width="1" />
<circle cx="102.00" cy="274.00" r="3.60" fill="url(#gN)" stroke="none" stroke-width="1" />
<circle cx="186.60" cy="274.00" r="3.60" fill="url(#gN)" stroke="none" stroke-width="1" />
<circle cx="171.70" cy="215.70" r="5.90" fill="url(#gTM1)" stroke="none" stroke-width="1" />
<circle cx="187.50" cy="237.70" r="6.20" fill="url(#gTM2)" stroke="none" stroke-width="1" />
<path d="M332.6,149.4 L364.1,138.4 L388.8,147.3 L385.8,149.5 L385.8,157 L388.8,158.3 L385.8,160.5 L385.8,168 L388.8,169.4 L385.8,171.5 L385.8,178.6 L388.8,180.4 L354.6,194 L331.5,184 Q328.6,178 331.3,172.5 Q328.6,167 331.3,161.3 Q328.6,155.5 332.6,149.4 Z" fill="#9C722E" stroke="none" stroke-width="1" />
<path d="M334.7,154.4 L354.6,161.8 L383.5,150.8 L383.5,157.6 L354.6,168.4 L334.7,160.8 Z" fill="#fff" stroke="none" stroke-width="1" />
<path d="M334.7,165.6 L354.6,173.0 L383.5,162.0 L383.5,168.79999999999998 L354.6,179.6 L334.7,172.0 Z" fill="#fff" stroke="none" stroke-width="1" />
<path d="M334.7,176.8 L354.6,184.20000000000002 L383.5,173.20000000000002 L383.5,180.0 L354.6,190.8 L334.7,183.20000000000002 Z" fill="#fff" stroke="none" stroke-width="1" />
<text x="359.0" y="204.5" font-size="9.8" text-anchor="middle" font-weight="bold" fill="#2B3145" >DFT calculation</text>
<path d="M334.09999999999997,218.5 L334.09999999999997,262.2 A23.6,6.2 0 0 0 381.3,262.2 L381.3,218.5 A23.6,6.2 0 0 0 334.09999999999997,218.5 Z" fill="#F4AC7E" stroke="none" stroke-width="1" />
<path d="M334.09999999999997,219.7 A23.6,6.2 0 0 0 381.3,219.7" fill="none" stroke="#fff" stroke-width="3.0" />
<path d="M334.09999999999997,234.0 A23.6,6.2 0 0 0 381.3,234.0" fill="none" stroke="#fff" stroke-width="3.0" />
<path d="M334.09999999999997,249.0 A23.6,6.2 0 0 0 381.3,249.0" fill="none" stroke="#fff" stroke-width="3.0" />
<circle cx="373.90" cy="231.80" r="1.60" fill="#fff" stroke="none" stroke-width="1" />
<circle cx="373.90" cy="246.80" r="1.60" fill="#fff" stroke="none" stroke-width="1" />
<circle cx="373.90" cy="261.70" r="1.60" fill="#fff" stroke="none" stroke-width="1" />
<text x="356.5" y="281.0" font-size="9.8" text-anchor="middle" font-weight="bold" fill="#2B3145" >Database</text>
<rect x="71.70" y="328.40" width="192.70" height="265.20" rx="0" fill="none" stroke="#C99C55" stroke-width="1.5" />
<rect x="282.40" y="389.20" width="114.10" height="159.50" rx="0" fill="none" stroke="#C99C55" stroke-width="1.5" />
<rect x="82.20" y="393.30" width="50.50" height="143.70" rx="7" fill="none" stroke="#5A6878" stroke-width="1" />
<rect x="189.00" y="334.70" width="58.60" height="143.50" rx="7" fill="none" stroke="#5A6878" stroke-width="1" />
<rect x="189.00" y="484.50" width="58.60" height="101.10" rx="7" fill="none" stroke="#5A6878" stroke-width="1" />
<line x1="129.10" y1="418.20" x2="195.30" y2="359.10" stroke="#4A5868" stroke-width="0.9" marker-end="url(#arrG)"/>
<line x1="129.10" y1="464.80" x2="195.30" y2="406.50" stroke="#4A5868" stroke-width="0.9" marker-end="url(#arrG)"/>
<line x1="129.10" y1="511.00" x2="195.30" y2="452.50" stroke="#4A5868" stroke-width="0.9" marker-end="url(#arrG)"/>
<line x1="129.10" y1="418.20" x2="196.30" y2="513.00" stroke="#FF1A1A" stroke-width="0.9" marker-end="url(#arrR)"/>
<line x1="129.10" y1="418.20" x2="196.30" y2="560.50" stroke="#FF1A1A" stroke-width="0.9" marker-end="url(#arrR)"/>
<line x1="129.10" y1="464.80" x2="196.30" y2="513.00" stroke="#FF1A1A" stroke-width="0.9" marker-end="url(#arrR)"/>
<line x1="129.10" y1="464.80" x2="196.30" y2="560.50" stroke="#FF1A1A" stroke-width="0.9" marker-end="url(#arrR)"/>
<line x1="240.90" y1="358.60" x2="312.90" y2="432.00" stroke="#4A5868" stroke-width="0.9" />
<line x1="240.90" y1="358.60" x2="312.90" y2="491.00" stroke="#5A9A30" stroke-width="0.9" />
<line x1="240.90" y1="406.00" x2="312.90" y2="432.00" stroke="#4A5868" stroke-width="0.9" />
<line x1="240.90" y1="406.00" x2="312.90" y2="491.00" stroke="#5A9A30" stroke-width="0.9" />
<line x1="240.90" y1="452.00" x2="312.90" y2="432.00" stroke="#4A5868" stroke-width="0.9" />
<line x1="240.90" y1="452.00" x2="312.90" y2="491.00" stroke="#5A9A30" stroke-width="0.9" />
<line x1="240.90" y1="513.00" x2="312.90" y2="432.00" stroke="#4A5868" stroke-width="0.9" />
<line x1="240.90" y1="513.00" x2="312.90" y2="491.00" stroke="#5A9A30" stroke-width="0.9" />
<line x1="240.90" y1="560.50" x2="312.90" y2="432.00" stroke="#4A5868" stroke-width="0.9" />
<line x1="240.90" y1="560.50" x2="312.90" y2="491.00" stroke="#5A9A30" stroke-width="0.9" />
<circle cx="313.50" cy="432.00" r="2.00" fill="#4A5868" stroke="none" stroke-width="1" />
<circle cx="313.50" cy="491.00" r="2.00" fill="#5A9A30" stroke="none" stroke-width="1" />
<ellipse cx="106.8" cy="418.2" rx="22.6" ry="21.8" fill="url(#gCirc)" stroke="#3E4E5E" stroke-width="1.1"/>
<text x="105.8" y="424.7" font-size="14.4" text-anchor="middle" font-weight="normal" fill="#111" >R1</text>
<ellipse cx="106.8" cy="464.8" rx="22.6" ry="21.8" fill="url(#gCirc)" stroke="#3E4E5E" stroke-width="1.1"/>
<text x="105.8" y="471.3" font-size="14.4" text-anchor="middle" font-weight="normal" fill="#111" >R2</text>
<ellipse cx="106.8" cy="511" rx="22.6" ry="21.8" fill="url(#gCirc)" stroke="#3E4E5E" stroke-width="1.1"/>
<rect x="99.15" y="502.65" width="2.30" height="2.30" rx="0" fill="#111" stroke="none" stroke-width="1" />
<rect x="99.15" y="519.55" width="2.30" height="2.30" rx="0" fill="#111" stroke="none" stroke-width="1" />
<rect x="103.85" y="502.65" width="2.30" height="2.30" rx="0" fill="#111" stroke="none" stroke-width="1" />
<rect x="103.85" y="519.55" width="2.30" height="2.30" rx="0" fill="#111" stroke="none" stroke-width="1" />
<rect x="108.95" y="502.65" width="2.30" height="2.30" rx="0" fill="#111" stroke="none" stroke-width="1" />
<rect x="108.95" y="519.55" width="2.30" height="2.30" rx="0" fill="#111" stroke="none" stroke-width="1" />
<ellipse cx="218.6" cy="358.6" rx="22.6" ry="21.8" fill="url(#gCirc)" stroke="#3E4E5E" stroke-width="1.1"/>
<text x="217.6" y="362.6" font-size="14.4" text-anchor="middle" font-weight="normal" fill="#111" >R1</text>
<ellipse cx="218.6" cy="406" rx="22.6" ry="21.8" fill="url(#gCirc)" stroke="#3E4E5E" stroke-width="1.1"/>
<text x="217.6" y="410.0" font-size="14.4" text-anchor="middle" font-weight="normal" fill="#111" >R2</text>
<ellipse cx="218.6" cy="452" rx="22.6" ry="21.8" fill="url(#gCirc)" stroke="#3E4E5E" stroke-width="1.1"/>
<rect x="213.55" y="442.85" width="2.30" height="2.30" rx="0" fill="#111" stroke="none" stroke-width="1" />
<rect x="213.55" y="459.65" width="2.30" height="2.30" rx="0" fill="#111" stroke="none" stroke-width="1" />
<rect x="218.05" y="442.85" width="2.30" height="2.30" rx="0" fill="#111" stroke="none" stroke-width="1" />
<rect x="218.05" y="459.65" width="2.30" height="2.30" rx="0" fill="#111" stroke="none" stroke-width="1" />
<rect x="222.75" y="442.85" width="2.30" height="2.30" rx="0" fill="#111" stroke="none" stroke-width="1" />
<rect x="222.75" y="459.65" width="2.30" height="2.30" rx="0" fill="#111" stroke="none" stroke-width="1" />
<ellipse cx="218.6" cy="513" rx="22.6" ry="21.8" fill="url(#gCirc)" stroke="#FF2020" stroke-width="1.3"/>
<text x="218.6" y="517.3" font-size="13" text-anchor="middle" font-weight="normal" fill="#111" >R1+R2</text>
<ellipse cx="218.6" cy="560.5" rx="22.6" ry="21.8" fill="url(#gCirc)" stroke="#FF2020" stroke-width="1.3"/>
<text x="218.6" y="564.8" font-size="13" text-anchor="middle" font-weight="normal" fill="#111" >R1-R2</text>
<circle cx="343.30" cy="430.70" r="28.30" fill="url(#gCirc)" stroke="#3E4E5E" stroke-width="1.1" />
<text x="340.8" y="423.0" font-size="11" text-anchor="middle" font-weight="bold" fill="#111" >U</text>
<text x="347.3" y="425.3" font-size="7" text-anchor="middle" font-weight="normal" fill="#111" >L</text>
<text x="343.3" y="437.0" font-size="10.4" text-anchor="middle" font-weight="bold" fill="#111" >(CO)</text>
<circle cx="343.30" cy="493.50" r="28.30" fill="url(#gCirc)" stroke="#3E4E5E" stroke-width="1.1" />
<text x="340.8" y="487.6" font-size="11" text-anchor="middle" font-weight="bold" fill="#111" >U</text>
<text x="347.3" y="489.9" font-size="7" text-anchor="middle" font-weight="normal" fill="#111" >L</text>
<text x="343.3" y="500.5" font-size="10.4" text-anchor="middle" font-weight="bold" fill="#111" >(HCOOH)</text>
<text x="136.4" y="578.0" font-size="15" text-anchor="middle" font-weight="bold" fill="#2B3550" >Input data</text>
<text x="340.3" y="541.0" font-size="15" text-anchor="middle" font-weight="bold" fill="#2B3550" >Target data</text>
<line x1="429.00" y1="17.10" x2="890.40" y2="17.10" stroke="#1F4E79" stroke-width="3.6" stroke-dasharray="3.5 3.45" stroke-dashoffset="4.75"/>
<line x1="429.00" y1="17.10" x2="429.00" y2="600.80" stroke="#1F4E79" stroke-width="3.6" stroke-dasharray="3.5 3.45" stroke-dashoffset="5.95"/>
<line x1="888.60" y1="17.10" x2="888.60" y2="600.80" stroke="#1F4E79" stroke-width="3.6" stroke-dasharray="3.5 3.45" stroke-dashoffset="5.95"/>
<line x1="429.00" y1="599.00" x2="890.40" y2="599.00" stroke="#1F4E79" stroke-width="3.6" stroke-dasharray="3.5 3.45" stroke-dashoffset="5.65"/>
<rect x="428.30" y="605.80" width="462.70" height="30.20" rx="0" fill="#1F4E79" stroke="none" stroke-width="1" />
<text x="526.0" y="627.0" font-size="18.55" text-anchor="start" font-weight="bold" fill="#fff" >b</text>
<text x="558.2" y="627.0" font-size="18.55" text-anchor="start" font-weight="bold" fill="#fff" >ML model training and tuning</text>
<rect x="457.20" y="40.30" width="165.60" height="150.20" rx="0" fill="#fff" stroke="none" stroke-width="1" />
<line x1="484.80" y1="40.30" x2="484.80" y2="190.50" stroke="#ECECEC" stroke-width="0.8" />
<line x1="457.20" y1="65.33" x2="622.80" y2="65.33" stroke="#ECECEC" stroke-width="0.8" />
<line x1="512.40" y1="40.30" x2="512.40" y2="190.50" stroke="#ECECEC" stroke-width="0.8" />
<line x1="457.20" y1="90.37" x2="622.80" y2="90.37" stroke="#ECECEC" stroke-width="0.8" />
<line x1="540.00" y1="40.30" x2="540.00" y2="190.50" stroke="#ECECEC" stroke-width="0.8" />
<line x1="457.20" y1="115.40" x2="622.80" y2="115.40" stroke="#ECECEC" stroke-width="0.8" />
<line x1="567.60" y1="40.30" x2="567.60" y2="190.50" stroke="#ECECEC" stroke-width="0.8" />
<line x1="457.20" y1="140.43" x2="622.80" y2="140.43" stroke="#ECECEC" stroke-width="0.8" />
<line x1="595.20" y1="40.30" x2="595.20" y2="190.50" stroke="#ECECEC" stroke-width="0.8" />
<line x1="457.20" y1="165.47" x2="622.80" y2="165.47" stroke="#ECECEC" stroke-width="0.8" />
<rect x="457.20" y="40.30" width="165.60" height="150.20" rx="0" fill="none" stroke="#333" stroke-width="1" />
<circle cx="471.00" cy="52.82" r="11.40" fill="#FF0000" stroke="none" stroke-width="1" />
<circle cx="498.60" cy="52.82" r="4.20" fill="#FCE0E0" stroke="none" stroke-width="1" />
<circle cx="526.20" cy="52.82" r="7.40" fill="#FF9090" stroke="none" stroke-width="1" />
<circle cx="553.80" cy="52.82" r="7.90" fill="#FF8080" stroke="none" stroke-width="1" />
<circle cx="609.00" cy="52.82" r="7.00" fill="#9898E0" stroke="none" stroke-width="1" />
<circle cx="471.00" cy="77.85" r="4.50" fill="#FCDCDC" stroke="none" stroke-width="1" />
<circle cx="498.60" cy="77.85" r="11.40" fill="#FF0000" stroke="none" stroke-width="1" />
<circle cx="526.20" cy="77.85" r="9.10" fill="#FF5858" stroke="none" stroke-width="1" />
<circle cx="553.80" cy="77.85" r="6.00" fill="#FFBABA" stroke="none" stroke-width="1" />
<circle cx="581.40" cy="77.85" r="6.50" fill="#B0B0E8" stroke="none" stroke-width="1" />
<circle cx="609.00" cy="77.85" r="6.70" fill="#A4A4E2" stroke="none" stroke-width="1" />
<circle cx="471.00" cy="102.88" r="7.70" fill="#FF9090" stroke="none" stroke-width="1" />
<circle cx="498.60" cy="102.88" r="9.40" fill="#FF5555" stroke="none" stroke-width="1" />
<circle cx="526.20" cy="102.88" r="11.00" fill="#FF0000" stroke="none" stroke-width="1" />
<circle cx="553.80" cy="102.88" r="8.40" fill="#FF7070" stroke="none" stroke-width="1" />
<circle cx="609.00" cy="102.88" r="8.90" fill="#6060C8" stroke="none" stroke-width="1" />
<circle cx="471.00" cy="127.92" r="7.90" fill="#FF8888" stroke="none" stroke-width="1" />
<circle cx="498.60" cy="127.92" r="6.00" fill="#FFC0C0" stroke="none" stroke-width="1" />
<circle cx="526.20" cy="127.92" r="8.40" fill="#FF7575" stroke="none" stroke-width="1" />
<circle cx="553.80" cy="127.92" r="11.00" fill="#FF0000" stroke="none" stroke-width="1" />
<circle cx="581.40" cy="127.92" r="2.40" fill="#FDE6E6" stroke="none" stroke-width="1" />
<circle cx="609.00" cy="127.92" r="8.60" fill="#6868CC" stroke="none" stroke-width="1" />
<circle cx="498.60" cy="152.95" r="6.50" fill="#B0B0E8" stroke="none" stroke-width="1" />
<circle cx="553.80" cy="152.95" r="2.40" fill="#FDE6E6" stroke="none" stroke-width="1" />
<circle cx="581.40" cy="152.95" r="11.00" fill="#FF0000" stroke="none" stroke-width="1" />
<circle cx="609.00" cy="152.95" r="8.20" fill="#7878D4" stroke="none" stroke-width="1" />
<circle cx="471.00" cy="177.98" r="7.00" fill="#9898DC" stroke="none" stroke-width="1" />
<circle cx="498.60" cy="177.98" r="6.60" fill="#A8A8E4" stroke="none" stroke-width="1" />
<circle cx="526.20" cy="177.98" r="8.90" fill="#5E5EC6" stroke="none" stroke-width="1" />
<circle cx="553.80" cy="177.98" r="8.60" fill="#6666CA" stroke="none" stroke-width="1" />
<circle cx="581.40" cy="177.98" r="8.20" fill="#7A7AD6" stroke="none" stroke-width="1" />
<circle cx="609.00" cy="177.98" r="11.00" fill="#FF0000" stroke="none" stroke-width="1" />
<circle cx="456.90" cy="208.70" r="7.30" fill="none" stroke="#111" stroke-width="0.9" />
<text x="456.9" y="213.1" font-size="12.5" text-anchor="middle" font-weight="normal" fill="#111" >1</text>
<text x="469.9" y="213.7" font-size="15.6" text-anchor="start" font-weight="normal" fill="#111" >Correlation analysis</text>
<circle cx="700.00" cy="209.40" r="7.30" fill="none" stroke="#111" stroke-width="0.9" />
<text x="700.0" y="213.8" font-size="12.5" text-anchor="middle" font-weight="normal" fill="#111" >2</text>
<text x="713.0" y="214.4" font-size="15.6" text-anchor="start" font-weight="normal" fill="#111" >Data splitting</text>
<path d="M640.8,75.1 L640.8,166.0 A42.05000000000001,10.6 0 0 0 724.9,166.0 L724.9,75.1" fill="#F4B183" stroke="#1A1A1A" stroke-width="1.5" />
<ellipse cx="682.8499999999999" cy="75.1" rx="42.05000000000001" ry="10.6" fill="#F8CBAD" stroke="#1A1A1A" stroke-width="1.5"/>
<text x="682.8" y="121.0" font-size="15.5" text-anchor="middle" font-weight="normal" fill="#111" >complete</text>
<text x="682.8" y="139.0" font-size="15.5" text-anchor="middle" font-weight="normal" fill="#111" >dataset</text>
<path d="M798,56.0 L798,126.1 A40.25,10.5 0 0 0 878.5,126.1 L878.5,56.0" fill="#9DC3E6" stroke="#1A1A1A" stroke-width="1.5" />
<ellipse cx="838.25" cy="56.0" rx="40.25" ry="10.5" fill="#BDD7EE" stroke="#1A1A1A" stroke-width="1.5"/>
<text x="838.3" y="98.0" font-size="15.6" text-anchor="middle" font-weight="normal" fill="#111" >training</text>
<text x="838.3" y="115.5" font-size="15.6" text-anchor="middle" font-weight="normal" fill="#111" >data</text>
<path d="M797.4,163.0 L797.4,188.2 A40.0,8.8 0 0 0 877.4,188.2 L877.4,163.0" fill="#E2EFDA" stroke="#1A1A1A" stroke-width="1.5" />
<ellipse cx="837.4" cy="163.0" rx="40.0" ry="8.8" fill="#E9F3E3" stroke="#1A1A1A" stroke-width="1.5"/>
<text x="837.4" y="186.6" font-size="15.6" text-anchor="middle" font-weight="normal" fill="#111" >test set</text>
<text x="760.5" y="81.6" font-size="15.3" text-anchor="middle" font-weight="bold" fill="#111" >80%</text>
<text x="760.5" y="162.4" font-size="15.3" text-anchor="middle" font-weight="bold" fill="#111" >20%</text>
<path d="M727.5,115 C745,92 762,84 793,82.5" fill="none" stroke="#111" stroke-width="1.5" marker-end="url(#arrK)"/>
<path d="M727.5,139 C757,133 775,148 793,170.5" fill="none" stroke="#111" stroke-width="1.5" marker-end="url(#arrK)"/>
<path d="M447.93,260.06 L448.35,256.27 L454.25,256.27 L454.67,260.06 L457.50,261.23 L460.48,258.85 L464.65,263.02 L462.27,266.00 L463.44,268.83 L467.23,269.25 L467.23,275.15 L463.44,275.57 L462.27,278.40 L464.65,281.38 L460.48,285.55 L457.50,283.17 L454.67,284.34 L454.25,288.13 L448.35,288.13 L447.93,284.34 L445.10,283.17 L442.12,285.55 L437.95,281.38 L440.33,278.40 L439.16,275.57 L435.37,275.15 L435.37,269.25 L439.16,268.83 L440.33,266.00 L437.95,263.02 L442.12,258.85 L445.10,261.23 Z M457.90000000000003,272.2 A6.6,6.6 0 1 0 444.7,272.2 A6.6,6.6 0 1 0 457.90000000000003,272.2 Z" fill="#C55A11" stroke="#C55A11" stroke-width="1.2" fill-rule="evenodd" stroke-linejoin="round"/>
<path d="M459.44,290.89 L459.80,287.73 L464.80,287.73 L465.16,290.89 L467.57,291.89 L470.06,289.91 L473.59,293.44 L471.61,295.93 L472.61,298.34 L475.77,298.70 L475.77,303.70 L472.61,304.06 L471.61,306.47 L473.59,308.96 L470.06,312.49 L467.57,310.51 L465.16,311.51 L464.80,314.67 L459.80,314.67 L459.44,311.51 L457.03,310.51 L454.54,312.49 L451.01,308.96 L452.99,306.47 L451.99,304.06 L448.83,303.70 L448.83,298.70 L451.99,298.34 L452.99,295.93 L451.01,293.44 L454.54,289.91 L457.03,291.89 Z M468.1,301.2 A5.8,5.8 0 1 0 456.5,301.2 A5.8,5.8 0 1 0 468.1,301.2 Z" fill="#BF9000" stroke="#BF9000" stroke-width="1.2" fill-rule="evenodd" stroke-linejoin="round"/>
<path d="M453.49,316.49 L453.74,314.07 L457.46,314.07 L457.71,316.49 L459.49,317.22 L461.38,315.69 L464.01,318.32 L462.48,320.21 L463.21,321.99 L465.63,322.24 L465.63,325.96 L463.21,326.21 L462.48,327.99 L464.01,329.88 L461.38,332.51 L459.49,330.98 L457.71,331.71 L457.46,334.13 L453.74,334.13 L453.49,331.71 L451.71,330.98 L449.82,332.51 L447.19,329.88 L448.72,327.99 L447.99,326.21 L445.57,325.96 L445.57,322.24 L447.99,321.99 L448.72,320.21 L447.19,318.32 L449.82,315.69 L451.71,317.22 Z M459.6,324.1 A4.0,4.0 0 1 0 451.6,324.1 A4.0,4.0 0 1 0 459.6,324.1 Z" fill="#9DC3E6" stroke="#9DC3E6" stroke-width="1.2" fill-rule="evenodd" stroke-linejoin="round"/>
<rect x="479.60" y="236.50" width="24.90" height="25.38" rx="0" fill="#F8CBAD" stroke="#2F5597" stroke-width="1.1" />
<rect x="479.60" y="261.88" width="24.90" height="25.38" rx="0" fill="#FFE699" stroke="#2F5597" stroke-width="1.1" />
<rect x="479.60" y="287.26" width="24.90" height="25.38" rx="0" fill="#BDD7EE" stroke="#2F5597" stroke-width="1.1" />
<rect x="479.60" y="312.64" width="24.90" height="25.38" rx="0" fill="#E2EFDA" stroke="#2F5597" stroke-width="1.1" />
<rect x="479.60" y="338.02" width="24.90" height="25.38" rx="0" fill="#D9D9D9" stroke="#2F5597" stroke-width="1.1" />
<line x1="504.50" y1="249.19" x2="531.30" y2="255.40" stroke="#44546A" stroke-width="0.9" marker-end="url(#arrN)"/>
<line x1="504.50" y1="249.19" x2="531.30" y2="284.50" stroke="#44546A" stroke-width="0.9" marker-end="url(#arrN)"/>
<line x1="504.50" y1="249.19" x2="531.30" y2="313.90" stroke="#44546A" stroke-width="0.9" marker-end="url(#arrN)"/>
<line x1="504.50" y1="249.19" x2="531.30" y2="343.00" stroke="#44546A" stroke-width="0.9" marker-end="url(#arrN)"/>
<line x1="504.50" y1="274.57" x2="531.30" y2="255.40" stroke="#44546A" stroke-width="0.9" marker-end="url(#arrN)"/>
<line x1="504.50" y1="274.57" x2="531.30" y2="284.50" stroke="#44546A" stroke-width="0.9" marker-end="url(#arrN)"/>
<line x1="504.50" y1="274.57" x2="531.30" y2="313.90" stroke="#44546A" stroke-width="0.9" marker-end="url(#arrN)"/>
<line x1="504.50" y1="274.57" x2="531.30" y2="343.00" stroke="#44546A" stroke-width="0.9" marker-end="url(#arrN)"/>
<line x1="504.50" y1="299.95" x2="531.30" y2="255.40" stroke="#44546A" stroke-width="0.9" marker-end="url(#arrN)"/>
<line x1="504.50" y1="299.95" x2="531.30" y2="284.50" stroke="#44546A" stroke-width="0.9" marker-end="url(#arrN)"/>
<line x1="504.50" y1="299.95" x2="531.30" y2="313.90" stroke="#44546A" stroke-width="0.9" marker-end="url(#arrN)"/>
<line x1="504.50" y1="299.95" x2="531.30" y2="343.00" stroke="#44546A" stroke-width="0.9" marker-end="url(#arrN)"/>
<line x1="504.50" y1="325.33" x2="531.30" y2="255.40" stroke="#44546A" stroke-width="0.9" marker-end="url(#arrN)"/>
<line x1="504.50" y1="325.33" x2="531.30" y2="284.50" stroke="#44546A" stroke-width="0.9" marker-end="url(#arrN)"/>
<line x1="504.50" y1="325.33" x2="531.30" y2="313.90" stroke="#44546A" stroke-width="0.9" marker-end="url(#arrN)"/>
<line x1="504.50" y1="325.33" x2="531.30" y2="343.00" stroke="#44546A" stroke-width="0.9" marker-end="url(#arrN)"/>
<line x1="504.50" y1="350.71" x2="531.30" y2="255.40" stroke="#44546A" stroke-width="0.9" marker-end="url(#arrN)"/>
<line x1="504.50" y1="350.71" x2="531.30" y2="284.50" stroke="#44546A" stroke-width="0.9" marker-end="url(#arrN)"/>
<line x1="504.50" y1="350.71" x2="531.30" y2="313.90" stroke="#44546A" stroke-width="0.9" marker-end="url(#arrN)"/>
<line x1="504.50" y1="350.71" x2="531.30" y2="343.00" stroke="#44546A" stroke-width="0.9" marker-end="url(#arrN)"/>
<line x1="555.10" y1="255.40" x2="575.40" y2="269.50" stroke="#44546A" stroke-width="0.9" marker-end="url(#arrN)"/>
<line x1="555.10" y1="255.40" x2="575.40" y2="298.90" stroke="#44546A" stroke-width="0.9" marker-end="url(#arrN)"/>
<line x1="555.10" y1="255.40" x2="575.40" y2="328.60" stroke="#44546A" stroke-width="0.9" marker-end="url(#arrN)"/>
<line x1="555.10" y1="284.50" x2="575.40" y2="269.50" stroke="#44546A" stroke-width="0.9" marker-end="url(#arrN)"/>
<line x1="555.10" y1="284.50" x2="575.40" y2="298.90" stroke="#44546A" stroke-width="0.9" marker-end="url(#arrN)"/>
<line x1="555.10" y1="284.50" x2="575.40" y2="328.60" stroke="#44546A" stroke-width="0.9" marker-end="url(#arrN)"/>
<line x1="555.10" y1="313.90" x2="575.40" y2="269.50" stroke="#44546A" stroke-width="0.9" marker-end="url(#arrN)"/>
<line x1="555.10" y1="313.90" x2="575.40" y2="298.90" stroke="#44546A" stroke-width="0.9" marker-end="url(#arrN)"/>
<line x1="555.10" y1="313.90" x2="575.40" y2="328.60" stroke="#44546A" stroke-width="0.9" marker-end="url(#arrN)"/>
<line x1="555.10" y1="343.00" x2="575.40" y2="269.50" stroke="#44546A" stroke-width="0.9" marker-end="url(#arrN)"/>
<line x1="555.10" y1="343.00" x2="575.40" y2="298.90" stroke="#44546A" stroke-width="0.9" marker-end="url(#arrN)"/>
<line x1="555.10" y1="343.00" x2="575.40" y2="328.60" stroke="#44546A" stroke-width="0.9" marker-end="url(#arrN)"/>
<line x1="599.20" y1="269.50" x2="614.00" y2="299.50" stroke="#44546A" stroke-width="0.9" marker-end="url(#arrN)"/>
<line x1="599.20" y1="298.90" x2="614.00" y2="299.50" stroke="#44546A" stroke-width="0.9" marker-end="url(#arrN)"/>
<line x1="599.20" y1="328.60" x2="614.00" y2="299.50" stroke="#44546A" stroke-width="0.9" marker-end="url(#arrN)"/>
<circle cx="543.50" cy="255.40" r="11.60" fill="#FFF2CC" stroke="#3B4B5E" stroke-width="1.2" />
<circle cx="543.50" cy="284.50" r="11.60" fill="#FFF2CC" stroke="#3B4B5E" stroke-width="1.2" />
<circle cx="543.50" cy="313.90" r="11.60" fill="#FFF2CC" stroke="#3B4B5E" stroke-width="1.2" />
<circle cx="543.50" cy="343.00" r="11.60" fill="#FFF2CC" stroke="#3B4B5E" stroke-width="1.2" />
<circle cx="587.60" cy="269.50" r="11.60" fill="#DEEBF7" stroke="#3B4B5E" stroke-width="1.2" />
<circle cx="587.60" cy="298.90" r="11.60" fill="#DEEBF7" stroke="#3B4B5E" stroke-width="1.2" />
<circle cx="587.60" cy="328.60" r="11.60" fill="#DEEBF7" stroke="#3B4B5E" stroke-width="1.2" />
<rect x="614.60" y="281.50" width="18.90" height="36.00" rx="0" fill="#F4B183" stroke="#2F5597" stroke-width="1.1" />
<text x="490.4" y="377.5" font-size="13.2" text-anchor="middle" font-weight="normal" fill="#111" >Input</text>
<text x="571.4" y="366.0" font-size="13.2" text-anchor="middle" font-weight="normal" fill="#111" >Hidden</text>
<text x="624.5" y="334.3" font-size="13.2" text-anchor="middle" font-weight="normal" fill="#111" >Output</text>
<circle cx="449.90" cy="399.20" r="7.30" fill="none" stroke="#111" stroke-width="0.9" />
<text x="449.9" y="403.6" font-size="12.5" text-anchor="middle" font-weight="normal" fill="#111" >3</text>
<text x="462.9" y="404.2" font-size="15.6" text-anchor="start" font-weight="normal" fill="#111" >Model training and testing</text>
<rect x="654.80" y="243.70" width="44.20" height="23.30" rx="0" fill="#E2EFDA" stroke="none" stroke-width="1" />
<rect x="700.00" y="243.70" width="178.60" height="23.30" rx="0" fill="#9DC3E6" stroke="none" stroke-width="1" />
<text x="677.0" y="259.8" font-size="12.3" text-anchor="middle" font-weight="bold" fill="#111" >Test</text>
<text x="789.3" y="259.8" font-size="12.3" text-anchor="middle" font-weight="bold" fill="#111" >Train</text>
<rect x="654.80" y="281.80" width="44.20" height="22.80" rx="0" fill="#9DC3E6" stroke="none" stroke-width="1" />
<rect x="700.00" y="281.80" width="44.00" height="22.80" rx="0" fill="#E2EFDA" stroke="none" stroke-width="1" />
<rect x="745.00" y="281.80" width="133.60" height="22.80" rx="0" fill="#9DC3E6" stroke="none" stroke-width="1" />
<text x="722.0" y="297.7" font-size="12.3" text-anchor="middle" font-weight="bold" fill="#111" >Test</text>
<rect x="745.80" y="318.70" width="2.00" height="2.00" rx="0" fill="#111" stroke="none" stroke-width="1" />
<rect x="752.30" y="318.70" width="2.00" height="2.00" rx="0" fill="#111" stroke="none" stroke-width="1" />
<rect x="758.60" y="318.70" width="2.00" height="2.00" rx="0" fill="#111" stroke="none" stroke-width="1" />
<rect x="771.40" y="318.70" width="2.00" height="2.00" rx="0" fill="#111" stroke="none" stroke-width="1" />
<rect x="778.00" y="318.70" width="2.00" height="2.00" rx="0" fill="#111" stroke="none" stroke-width="1" />
<rect x="784.80" y="318.70" width="2.00" height="2.00" rx="0" fill="#111" stroke="none" stroke-width="1" />
<rect x="656.00" y="330.20" width="178.80" height="22.80" rx="0" fill="#9DC3E6" stroke="none" stroke-width="1" />
<rect x="836.00" y="330.20" width="43.70" height="22.80" rx="0" fill="#E2EFDA" stroke="none" stroke-width="1" />
<text x="857.8" y="346.3" font-size="12.3" text-anchor="middle" font-weight="bold" fill="#111" >Test</text>
<circle cx="683.90" cy="377.40" r="7.30" fill="none" stroke="#111" stroke-width="0.9" />
<text x="683.9" y="381.8" font-size="12.5" text-anchor="middle" font-weight="normal" fill="#111" >4</text>
<text x="696.9" y="382.4" font-size="15.6" text-anchor="start" font-weight="normal" fill="#111" >Hyperparameters tuning</text>
<text x="694.0" y="404.6" font-size="15.5" text-anchor="start" font-weight="normal" fill="#111" >(5-fold cross validation)</text>
<path d="M442.20,465.60 L460.35,434.16 L496.65,434.16 L514.80,465.60 L496.65,497.04 L460.35,497.04 Z" fill="#DCE2F2" stroke="none" stroke-width="1" />
<path d="M447.40,465.60 L462.95,438.66 L494.05,438.66 L509.60,465.60 L494.05,492.54 L462.95,492.54 Z" fill="url(#hxRF)" stroke="none" stroke-width="1" />
<path d="M443.50,530.70 L462.00,498.66 L499.00,498.66 L517.50,530.70 L499.00,562.74 L462.00,562.74 Z" fill="#DCE2F2" stroke="none" stroke-width="1" />
<path d="M448.70,530.70 L464.60,503.16 L496.40,503.16 L512.30,530.70 L496.40,558.24 L464.60,558.24 Z" fill="url(#hxGBR)" stroke="none" stroke-width="1" />
<path d="M501.70,497.80 L519.70,466.62 L555.70,466.62 L573.70,497.80 L555.70,528.98 L519.70,528.98 Z" fill="#DCE2F2" stroke="none" stroke-width="1" />
<path d="M506.90,497.80 L522.30,471.12 L553.10,471.12 L568.50,497.80 L553.10,524.48 L522.30,524.48 Z" fill="url(#hxDOT)" stroke="none" stroke-width="1" />
<path d="M558.40,464.90 L576.65,433.29 L613.15,433.29 L631.40,464.90 L613.15,496.51 L576.65,496.51 Z" fill="#DCE2F2" stroke="none" stroke-width="1" />
<path d="M563.60,464.90 L579.25,437.79 L610.55,437.79 L626.20,464.90 L610.55,492.01 L579.25,492.01 Z" fill="url(#hxFNN)" stroke="none" stroke-width="1" />
<path d="M559.30,531.20 L577.80,499.16 L614.80,499.16 L633.30,531.20 L614.80,563.24 L577.80,563.24 Z" fill="#DCE2F2" stroke="none" stroke-width="1" />
<path d="M564.50,531.20 L580.40,503.66 L612.20,503.66 L628.10,531.20 L612.20,558.74 L580.40,558.74 Z" fill="url(#hxSVM)" stroke="none" stroke-width="1" />
<text x="480.6" y="472.5" font-size="19.3" text-anchor="middle" font-weight="normal" fill="#111" >RF</text>
<text x="481.0" y="537.0" font-size="19.3" text-anchor="middle" font-weight="normal" fill="#111" >GBR</text>
<rect x="529.90" y="495.90" width="3.00" height="3.00" rx="0" fill="#000" stroke="none" stroke-width="1" />
<rect x="536.70" y="495.90" width="3.00" height="3.00" rx="0" fill="#000" stroke="none" stroke-width="1" />
<rect x="543.10" y="495.90" width="3.00" height="3.00" rx="0" fill="#000" stroke="none" stroke-width="1" />
<text x="594.0" y="471.5" font-size="19.3" text-anchor="middle" font-weight="normal" fill="#111" >FNN</text>
<text x="597.0" y="538.0" font-size="19.3" text-anchor="middle" font-weight="normal" fill="#111" >SVM</text>
<circle cx="459.40" cy="580.80" r="7.30" fill="none" stroke="#111" stroke-width="0.9" />
<text x="459.4" y="585.2" font-size="12.5" text-anchor="middle" font-weight="normal" fill="#111" >5</text>
<text x="472.4" y="585.8" font-size="15.6" text-anchor="start" font-weight="normal" fill="#111" >Model selection</text>
<rect x="686.90" y="429.00" width="78.10" height="60.00" rx="0" fill="#D5E8D4" stroke="none" stroke-width="1" />
<circle cx="707.80" cy="441.50" r="10.40" fill="url(#gNNg)" stroke="#6E7480" stroke-width="0.8" />
<rect x="651.20" y="443.30" width="80.00" height="96.70" rx="0" fill="#D5E8D4" stroke="none" stroke-width="1" />
<line x1="680.10" y1="457.60" x2="698.50" y2="479.00" stroke="#666" stroke-width="0.5" />
<line x1="680.10" y1="457.60" x2="698.50" y2="502.50" stroke="#666" stroke-width="0.5" />
<line x1="680.10" y1="479.00" x2="698.50" y2="479.00" stroke="#666" stroke-width="0.5" />
<line x1="680.10" y1="479.00" x2="698.50" y2="502.50" stroke="#666" stroke-width="0.5" />
<line x1="680.10" y1="502.50" x2="698.50" y2="479.00" stroke="#666" stroke-width="0.5" />
<line x1="680.10" y1="502.50" x2="698.50" y2="502.50" stroke="#666" stroke-width="0.5" />
<line x1="680.10" y1="524.60" x2="698.50" y2="479.00" stroke="#666" stroke-width="0.5" />
<line x1="680.10" y1="524.60" x2="698.50" y2="502.50" stroke="#666" stroke-width="0.5" />
<circle cx="708.90" cy="479.00" r="10.40" fill="url(#gNNg)" stroke="#6E7480" stroke-width="0.8" />
<circle cx="669.70" cy="457.60" r="10.40" fill="url(#gNNg)" stroke="#6E7480" stroke-width="0.8" />
<circle cx="669.70" cy="479.00" r="10.40" fill="url(#gNNg)" stroke="#6E7480" stroke-width="0.8" />
<circle cx="669.70" cy="502.50" r="10.40" fill="url(#gNNg)" stroke="#6E7480" stroke-width="0.8" />
<circle cx="669.70" cy="524.60" r="10.40" fill="url(#gNNg)" stroke="#6E7480" stroke-width="0.8" />
<rect x="666.40" y="470.80" width="79.50" height="96.90" rx="0" fill="#FFD966" stroke="none" stroke-width="1" />
<line x1="698.40" y1="484.50" x2="716.60" y2="506.50" stroke="#555" stroke-width="0.5" />
<line x1="698.40" y1="484.50" x2="716.60" y2="530.30" stroke="#555" stroke-width="0.5" />
<line x1="698.40" y1="506.50" x2="716.60" y2="506.50" stroke="#555" stroke-width="0.5" />
<line x1="698.40" y1="506.50" x2="716.60" y2="530.30" stroke="#555" stroke-width="0.5" />
<line x1="698.40" y1="530.30" x2="716.60" y2="506.50" stroke="#555" stroke-width="0.5" />
<line x1="698.40" y1="530.30" x2="716.60" y2="530.30" stroke="#555" stroke-width="0.5" />
<line x1="698.40" y1="552.10" x2="716.60" y2="506.50" stroke="#555" stroke-width="0.5" />
<line x1="698.40" y1="552.10" x2="716.60" y2="530.30" stroke="#555" stroke-width="0.5" />
<circle cx="688.00" cy="484.50" r="10.40" fill="url(#gNNy)" stroke="#5E5E5E" stroke-width="0.8" />
<circle cx="688.00" cy="506.50" r="10.40" fill="url(#gNNy)" stroke="#5E5E5E" stroke-width="0.8" />
<circle cx="688.00" cy="530.30" r="10.40" fill="url(#gNNy)" stroke="#5E5E5E" stroke-width="0.8" />
<circle cx="688.00" cy="552.10" r="10.40" fill="url(#gNNy)" stroke="#5E5E5E" stroke-width="0.8" />
<rect x="711.50" y="444.40" width="79.30" height="96.90" rx="0" fill="#C0504D" stroke="none" stroke-width="1" />
<line x1="743.50" y1="459.10" x2="762.40" y2="480.70" stroke="#6A4444" stroke-width="0.55" />
<line x1="743.50" y1="459.10" x2="762.40" y2="504.30" stroke="#6A4444" stroke-width="0.55" />
<line x1="743.50" y1="480.70" x2="762.40" y2="480.70" stroke="#6A4444" stroke-width="0.55" />
<line x1="743.50" y1="480.70" x2="762.40" y2="504.30" stroke="#6A4444" stroke-width="0.55" />
<line x1="743.50" y1="504.30" x2="762.40" y2="480.70" stroke="#6A4444" stroke-width="0.55" />
<line x1="743.50" y1="504.30" x2="762.40" y2="504.30" stroke="#6A4444" stroke-width="0.55" />
<line x1="743.50" y1="525.90" x2="762.40" y2="480.70" stroke="#6A4444" stroke-width="0.55" />
<line x1="743.50" y1="525.90" x2="762.40" y2="504.30" stroke="#6A4444" stroke-width="0.55" />
<circle cx="762.40" cy="480.70" r="1.50" fill="#6A4444" stroke="none" stroke-width="1" />
<circle cx="762.40" cy="504.30" r="1.50" fill="#6A4444" stroke="none" stroke-width="1" />
<circle cx="733.10" cy="459.10" r="10.40" fill="url(#gNNr)" stroke="#6E6A6A" stroke-width="0.8" />
<circle cx="733.10" cy="480.70" r="10.40" fill="url(#gNNr)" stroke="#6E6A6A" stroke-width="0.8" />
<circle cx="733.10" cy="504.30" r="10.40" fill="url(#gNNr)" stroke="#6E6A6A" stroke-width="0.8" />
<circle cx="733.10" cy="525.90" r="10.40" fill="url(#gNNr)" stroke="#6E6A6A" stroke-width="0.8" />
<circle cx="772.80" cy="480.70" r="10.40" fill="url(#gNNr)" stroke="#6E6A6A" stroke-width="0.8" />
<circle cx="772.80" cy="504.30" r="10.40" fill="url(#gNNr)" stroke="#6E6A6A" stroke-width="0.8" />
<path d="M811.4,456.9 L862.7,456.9 L862.7,465 L878,465 L878,485 C878,502 862,512 842.8,514.5 L842.8,536.4 L848,536.4 C851,536.4 852,538 852,540.3 L862.7,540.3 L862.7,547.1 L811.4,547.1 L811.4,540.3 L822.1,540.3 C822.1,538 823,536.4 826,536.4 L832.1,536.4 L832.1,514.5 C812,512 796.1,502 796.1,485 L796.1,465 L811.4,465 Z" fill="#FF0000" stroke="none" stroke-width="1" />
<path d="M803.5,472.2 L811.4,472.2 L811.4,480 C811.5,492 816,501 823.7,507.4 C812,504 803.5,495 803.5,482 Z" fill="#fff" stroke="none" stroke-width="1" />
<path d="M870.6,472.2 L862.7,472.2 L862.7,480 C862.6,492 858.1,501 850.4,507.4 C862.1,504 870.6,495 870.6,482 Z" fill="#fff" stroke="none" stroke-width="1" />
<text x="829.2" y="477.5" font-size="13.8" text-anchor="start" font-weight="normal" fill="#111" >R</text>
<text x="840.3" y="473.5" font-size="8.5" text-anchor="start" font-weight="normal" fill="#111" >2</text>
<text x="837.6" y="495.6" font-size="14.4" text-anchor="middle" font-weight="normal" fill="#111" >RMSE</text>
<circle cx="686.10" cy="581.40" r="7.30" fill="none" stroke="#111" stroke-width="0.9" />
<text x="686.1" y="585.8" font-size="12.5" text-anchor="middle" font-weight="normal" fill="#111" >6</text>
<text x="699.1" y="586.4" font-size="15.6" text-anchor="start" font-weight="normal" fill="#111" >Best performance model</text>
<line x1="900.10" y1="16.00" x2="1255.50" y2="16.00" stroke="#C55A11" stroke-width="3.6" stroke-dasharray="3.5 3.45" stroke-dashoffset="5.85"/>
<line x1="900.10" y1="16.00" x2="900.10" y2="600.80" stroke="#C55A11" stroke-width="3.6" stroke-dasharray="3.5 3.45" stroke-dashoffset="4.95"/>
<line x1="1253.70" y1="16.00" x2="1253.70" y2="600.80" stroke="#C55A11" stroke-width="3.6" stroke-dasharray="3.5 3.45" stroke-dashoffset="4.95"/>
<line x1="900.10" y1="599.00" x2="1255.50" y2="599.00" stroke="#C55A11" stroke-width="3.6" stroke-dasharray="3.5 3.45" stroke-dashoffset="6.95"/>
<rect x="899.50" y="605.20" width="356.30" height="29.30" rx="0" fill="#C55A11" stroke="none" stroke-width="1" />
<text x="927.6" y="625.9" font-size="18.4" text-anchor="start" font-weight="bold" fill="#fff" >c</text>
<text x="952.1" y="625.9" font-size="18.4" text-anchor="start" font-weight="bold" fill="#fff" >Model predicting and validation</text>
<rect x="935.00" y="21.60" width="29.50" height="27.90" rx="0" fill="#C5E0B4" stroke="#2F5597" stroke-width="1.6" />
<rect x="964.50" y="21.60" width="30.00" height="27.90" rx="0" fill="#B4B4E8" stroke="#2F5597" stroke-width="1.6" />
<rect x="935.00" y="52.50" width="29.50" height="28.00" rx="0" fill="#C5E0B4" stroke="#2F5597" stroke-width="1.6" />
<rect x="964.50" y="52.50" width="30.00" height="28.00" rx="0" fill="#B4B4E8" stroke="#2F5597" stroke-width="1.6" />
<rect x="935.00" y="84.70" width="29.50" height="27.90" rx="0" fill="#C5E0B4" stroke="#2F5597" stroke-width="1.6" />
<rect x="964.50" y="84.70" width="30.00" height="27.90" rx="0" fill="#B4B4E8" stroke="#2F5597" stroke-width="1.6" />
<rect x="935.00" y="124.60" width="29.50" height="27.90" rx="0" fill="#C5E0B4" stroke="#2F5597" stroke-width="1.6" />
<rect x="964.50" y="124.60" width="30.00" height="27.90" rx="0" fill="#B4B4E8" stroke="#2F5597" stroke-width="1.6" />
<rect x="957.80" y="117.70" width="2.20" height="2.20" rx="0" fill="#111" stroke="none" stroke-width="1" />
<rect x="964.40" y="117.70" width="2.20" height="2.20" rx="0" fill="#111" stroke="none" stroke-width="1" />
<rect x="970.60" y="117.70" width="2.20" height="2.20" rx="0" fill="#111" stroke="none" stroke-width="1" />
<path d="M997.5,80.94999999999999 L1022.3034,80.94999999999999 L1022.3034,73.6 L1037.7,88.6 L1022.3034,103.6 L1022.3034,96.25 L997.5,96.25 L1005.138,88.6 Z" fill="#C0504D" stroke="none" stroke-width="1" />
<rect x="1040.00" y="29.10" width="89.60" height="110.50" rx="0" fill="#C0504D" stroke="none" stroke-width="1" />
<line x1="1076.20" y1="45.60" x2="1097.80" y2="70.60" stroke="#6A4444" stroke-width="0.6" />
<line x1="1076.20" y1="45.60" x2="1097.80" y2="97.60" stroke="#6A4444" stroke-width="0.6" />
<line x1="1076.20" y1="71.20" x2="1097.80" y2="70.60" stroke="#6A4444" stroke-width="0.6" />
<line x1="1076.20" y1="71.20" x2="1097.80" y2="97.60" stroke="#6A4444" stroke-width="0.6" />
<line x1="1076.20" y1="97.60" x2="1097.80" y2="70.60" stroke="#6A4444" stroke-width="0.6" />
<line x1="1076.20" y1="97.60" x2="1097.80" y2="97.60" stroke="#6A4444" stroke-width="0.6" />
<line x1="1076.20" y1="122.50" x2="1097.80" y2="70.60" stroke="#6A4444" stroke-width="0.6" />
<line x1="1076.20" y1="122.50" x2="1097.80" y2="97.60" stroke="#6A4444" stroke-width="0.6" />
<circle cx="1097.80" cy="70.60" r="1.70" fill="#6A4444" stroke="none" stroke-width="1" />
<circle cx="1097.80" cy="97.60" r="1.70" fill="#6A4444" stroke="none" stroke-width="1" />
<circle cx="1064.20" cy="45.60" r="12.00" fill="url(#gNNr)" stroke="#6E6A6A" stroke-width="0.9" />
<circle cx="1064.20" cy="71.20" r="12.00" fill="url(#gNNr)" stroke="#6E6A6A" stroke-width="0.9" />
<circle cx="1064.20" cy="97.60" r="12.00" fill="url(#gNNr)" stroke="#6E6A6A" stroke-width="0.9" />
<circle cx="1064.20" cy="122.50" r="12.00" fill="url(#gNNr)" stroke="#6E6A6A" stroke-width="0.9" />
<circle cx="1109.80" cy="70.60" r="12.00" fill="url(#gNNr)" stroke="#6E6A6A" stroke-width="0.9" />
<circle cx="1109.80" cy="97.60" r="12.00" fill="url(#gNNr)" stroke="#6E6A6A" stroke-width="0.9" />
<path d="M1135.6,80.94999999999999 L1160.0948999999998,80.94999999999999 L1160.0948999999998,73.6 L1175.3,88.6 L1160.0948999999998,103.6 L1160.0948999999998,96.25 L1135.6,96.25 L1143.143,88.6 Z" fill="#C0504D" stroke="none" stroke-width="1" />
<text x="1190.9" y="87.2" font-size="24" text-anchor="start" font-weight="bold" fill="#111" >U</text>
<text x="1207.6" y="91.7" font-size="14.6" text-anchor="start" font-weight="bold" fill="#111" >L</text>
<text x="1204.0" y="111.3" font-size="14.5" text-anchor="middle" font-weight="bold" fill="#111" >(CO)</text>
<text x="1000.5" y="153.8" font-size="15.3" text-anchor="start" font-weight="normal" fill="#111" >276 DACs input data</text>
<rect x="912.00" y="171.40" width="29.00" height="28.60" rx="0" fill="#BDD7EE" stroke="#2F5597" stroke-width="1.6" />
<rect x="941.00" y="171.40" width="29.50" height="28.60" rx="0" fill="#D9D9D9" stroke="#2F5597" stroke-width="1.6" />
<rect x="970.50" y="171.40" width="29.40" height="28.60" rx="0" fill="#F8CBAD" stroke="#2F5597" stroke-width="1.6" />
<rect x="912.00" y="204.40" width="29.00" height="28.30" rx="0" fill="#BDD7EE" stroke="#2F5597" stroke-width="1.6" />
<rect x="941.00" y="204.40" width="29.50" height="28.30" rx="0" fill="#D9D9D9" stroke="#2F5597" stroke-width="1.6" />
<rect x="970.50" y="204.40" width="29.40" height="28.30" rx="0" fill="#F8CBAD" stroke="#2F5597" stroke-width="1.6" />
<rect x="912.00" y="239.00" width="29.00" height="28.20" rx="0" fill="#BDD7EE" stroke="#2F5597" stroke-width="1.6" />
<rect x="941.00" y="239.00" width="29.50" height="28.20" rx="0" fill="#D9D9D9" stroke="#2F5597" stroke-width="1.6" />
<rect x="970.50" y="239.00" width="29.40" height="28.20" rx="0" fill="#F8CBAD" stroke="#2F5597" stroke-width="1.6" />
<rect x="912.00" y="281.60" width="29.00" height="28.60" rx="0" fill="#BDD7EE" stroke="#2F5597" stroke-width="1.6" />
<rect x="941.00" y="281.60" width="29.50" height="28.60" rx="0" fill="#D9D9D9" stroke="#2F5597" stroke-width="1.6" />
<rect x="970.50" y="281.60" width="29.40" height="28.60" rx="0" fill="#F8CBAD" stroke="#2F5597" stroke-width="1.6" />
<rect x="949.80" y="273.60" width="2.20" height="2.20" rx="0" fill="#111" stroke="none" stroke-width="1" />
<rect x="956.60" y="273.60" width="2.20" height="2.20" rx="0" fill="#111" stroke="none" stroke-width="1" />
<rect x="962.90" y="273.60" width="2.20" height="2.20" rx="0" fill="#111" stroke="none" stroke-width="1" />
<path d="M1001.7,229.1705 L1025.8247,229.1705 L1025.8247,221.6 L1040.8,237.05 L1025.8247,252.5 L1025.8247,244.9295 L1001.7,244.9295 L1009.129,237.05 Z" fill="#FFD966" stroke="none" stroke-width="1" />
<rect x="1042.50" y="182.00" width="90.10" height="110.00" rx="0" fill="#FFD966" stroke="none" stroke-width="1" />
<line x1="1079.20" y1="198.60" x2="1100.40" y2="224.00" stroke="#555" stroke-width="0.6" />
<line x1="1079.20" y1="198.60" x2="1100.40" y2="251.00" stroke="#555" stroke-width="0.6" />
<line x1="1079.20" y1="224.00" x2="1100.40" y2="224.00" stroke="#555" stroke-width="0.6" />
<line x1="1079.20" y1="224.00" x2="1100.40" y2="251.00" stroke="#555" stroke-width="0.6" />
<line x1="1079.20" y1="250.70" x2="1100.40" y2="224.00" stroke="#555" stroke-width="0.6" />
<line x1="1079.20" y1="250.70" x2="1100.40" y2="251.00" stroke="#555" stroke-width="0.6" />
<line x1="1079.20" y1="275.70" x2="1100.40" y2="224.00" stroke="#555" stroke-width="0.6" />
<line x1="1079.20" y1="275.70" x2="1100.40" y2="251.00" stroke="#555" stroke-width="0.6" />
<circle cx="1100.40" cy="224.00" r="1.70" fill="#555" stroke="none" stroke-width="1" />
<circle cx="1100.40" cy="251.00" r="1.70" fill="#555" stroke="none" stroke-width="1" />
<circle cx="1067.20" cy="198.60" r="12.00" fill="url(#gNNy)" stroke="#5E5E5E" stroke-width="0.9" />
<circle cx="1067.20" cy="224.00" r="12.00" fill="url(#gNNy)" stroke="#5E5E5E" stroke-width="0.9" />
<circle cx="1067.20" cy="250.70" r="12.00" fill="url(#gNNy)" stroke="#5E5E5E" stroke-width="0.9" />
<circle cx="1067.20" cy="275.70" r="12.00" fill="url(#gNNy)" stroke="#5E5E5E" stroke-width="0.9" />
<circle cx="1112.40" cy="224.00" r="12.00" fill="url(#gNNy)" stroke="#5E5E5E" stroke-width="0.9" />
<circle cx="1112.40" cy="251.00" r="12.00" fill="url(#gNNy)" stroke="#5E5E5E" stroke-width="0.9" />
<path d="M1134.7,227.35 L1158.8247,227.35 L1158.8247,220 L1173.8,235.0 L1158.8247,250 L1158.8247,242.65 L1134.7,242.65 L1142.1290000000001,235.0 Z" fill="#FFD966" stroke="none" stroke-width="1" />
<text x="1194.9" y="230.9" font-size="24" text-anchor="start" font-weight="bold" fill="#111" >U</text>
<text x="1212.0" y="234.9" font-size="14.6" text-anchor="start" font-weight="bold" fill="#111" >L</text>
<text x="1208.3" y="254.7" font-size="14.9" text-anchor="middle" font-weight="bold" fill="#111" >(HCOOH)</text>
<text x="1002.6" y="309.2" font-size="15.3" text-anchor="start" font-weight="normal" fill="#111" >276 DACs input data</text>
<text x="980.7" y="331.6" font-size="15" fill="#111">Predicted U<tspan font-size="10.2" dy="4.3">L(HCOOH)</tspan><tspan dy="-4.3"> and U</tspan><tspan font-size="10.2" dy="4.3">L(CO)</tspan></text>
<rect x="975.70" y="371.70" width="42.80" height="206.50" rx="0" fill="#C5E0B4" stroke="none" stroke-width="1" />
<rect x="1022.30" y="487.34" width="43.50" height="90.86" rx="0" fill="#B4B4E8" stroke="none" stroke-width="1" />
<rect x="1117.00" y="371.70" width="43.20" height="206.50" rx="0" fill="#BDD7EE" stroke="none" stroke-width="1" />
<rect x="1164.00" y="458.43" width="42.90" height="119.77" rx="0" fill="#F8CBAD" stroke="none" stroke-width="1" />
<line x1="1091.50" y1="352.70" x2="1091.50" y2="576.20" stroke="#8A8A8A" stroke-width="1.4" stroke-dasharray="1.8 5"/>
<rect x="949.70" y="350.70" width="283.10" height="227.50" rx="0" fill="none" stroke="#333" stroke-width="1.3" />
<line x1="949.70" y1="578.20" x2="954.20" y2="578.20" stroke="#333" stroke-width="1" />
<text x="945.3" y="581.6" font-size="9.6" text-anchor="end" font-weight="normal" fill="#111" >0</text>
<line x1="949.70" y1="536.90" x2="954.20" y2="536.90" stroke="#333" stroke-width="1" />
<text x="945.3" y="540.3" font-size="9.6" text-anchor="end" font-weight="normal" fill="#111" >20</text>
<line x1="949.70" y1="495.60" x2="954.20" y2="495.60" stroke="#333" stroke-width="1" />
<text x="945.3" y="499.0" font-size="9.6" text-anchor="end" font-weight="normal" fill="#111" >40</text>
<line x1="949.70" y1="454.30" x2="954.20" y2="454.30" stroke="#333" stroke-width="1" />
<text x="945.3" y="457.7" font-size="9.6" text-anchor="end" font-weight="normal" fill="#111" >60</text>
<line x1="949.70" y1="413.00" x2="954.20" y2="413.00" stroke="#333" stroke-width="1" />
<text x="945.3" y="416.4" font-size="9.6" text-anchor="end" font-weight="normal" fill="#111" >80</text>
<line x1="949.70" y1="371.70" x2="954.20" y2="371.70" stroke="#333" stroke-width="1" />
<text x="945.3" y="375.1" font-size="9.6" text-anchor="end" font-weight="normal" fill="#111" >100</text>
<text transform="translate(927.8,463.6) rotate(-90)" font-size="14" text-anchor="middle" fill="#111">Computational cost (%)</text>
<text x="1026.0" y="367.3" font-size="15" text-anchor="middle" font-weight="normal" fill="#111" >CO</text>
<text x="1164.8" y="367.3" font-size="15" text-anchor="middle" font-weight="normal" fill="#111" >HCOOH</text>
<text x="1039.8" y="403.5" font-size="12.5" text-anchor="start" font-weight="normal" fill="#111" >reduced</text>
<text x="1041.0" y="419.5" font-size="12.5" text-anchor="start" font-weight="normal" fill="#111" >by 56%</text>
<text x="1183.2" y="403.0" font-size="12.5" text-anchor="start" font-weight="normal" fill="#111" >reduced</text>
<text x="1184.3" y="419.0" font-size="12.5" text-anchor="start" font-weight="normal" fill="#111" >by 42%</text>
<text x="997.4" y="590.3" font-size="12" text-anchor="middle" font-weight="normal" fill="#111" >DFT</text>
<text x="1043.3" y="590.3" font-size="12" text-anchor="middle" font-weight="normal" fill="#111" >DFT-ML</text>
<text x="1137.3" y="590.3" font-size="12" text-anchor="middle" font-weight="normal" fill="#111" >DFT</text>
<text x="1185.1" y="590.3" font-size="12" text-anchor="middle" font-weight="normal" fill="#111" >DFT-ML</text>
<path d="M1019.2,372.2 C1026,385 1034,410 1037,448.7 L1031,448.7 L1044,485.6 L1049,448.7 L1044,448.7 C1042,420 1028,385 1021,372.5 Z" fill="#C0504D" stroke="none" stroke-width="1" />
<path d="M1160.4,372.2 C1167,382 1174,400 1177,427.6 L1173,427.6 L1186.7,456.7 L1190.9,427.6 L1185,427.6 C1183,405 1173,383 1162.5,372.5 Z" fill="#FFD966" stroke="none" stroke-width="1" />
</svg></body></html>
